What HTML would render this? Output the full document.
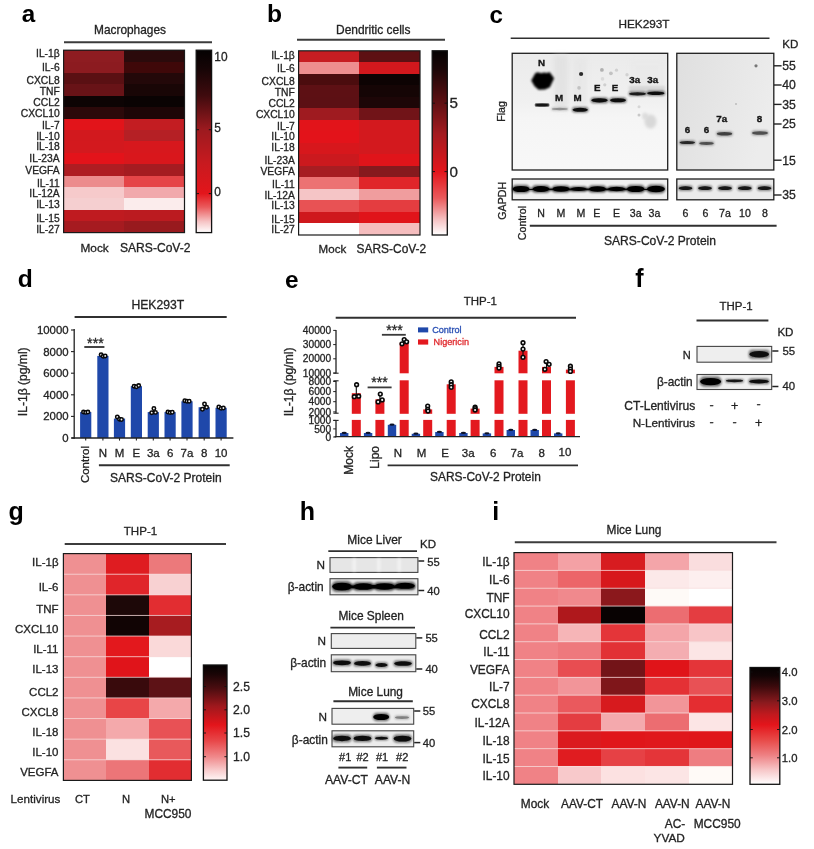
<!DOCTYPE html>
<html lang="en"><head><meta charset="utf-8"><title>Figure</title>
<style>
html,body{margin:0;padding:0;background:#fff;}
body{width:814px;height:849px;overflow:hidden;}
svg{display:block;font-family:"Liberation Sans",Arial,sans-serif;filter:blur(0.45px);}
</style></head><body>
<svg width="814" height="849" viewBox="0 0 814 849">
<rect x="0" y="0" width="814" height="849" fill="#ffffff"/>
<text x="28.40" y="21.76" font-size="24.20" text-anchor="middle" font-weight="700" fill="#000">a</text>
<text x="130.00" y="33.75" font-size="11.88" text-anchor="middle" stroke="#242424" stroke-width="0.3" fill="#242424">Macrophages</text>
<line x1="64.00" y1="42.30" x2="212.00" y2="42.30" stroke="#3c3c3c" stroke-width="1.9" stroke-linecap="butt"/>
<rect x="63.60" y="50.20" width="60.95" height="11.90" fill="#8e1c21" shape-rendering="crispEdges"/>
<rect x="124.05" y="50.20" width="60.45" height="11.90" fill="#2b0a0b" shape-rendering="crispEdges"/>
<rect x="63.60" y="61.60" width="60.95" height="11.90" fill="#8c1b20" shape-rendering="crispEdges"/>
<rect x="124.05" y="61.60" width="60.45" height="11.90" fill="#3f0809" shape-rendering="crispEdges"/>
<rect x="63.60" y="73.00" width="60.95" height="11.90" fill="#5a1013" shape-rendering="crispEdges"/>
<rect x="124.05" y="73.00" width="60.45" height="11.90" fill="#230809" shape-rendering="crispEdges"/>
<rect x="63.60" y="84.40" width="60.95" height="11.90" fill="#681317" shape-rendering="crispEdges"/>
<rect x="124.05" y="84.40" width="60.45" height="11.90" fill="#190606" shape-rendering="crispEdges"/>
<rect x="63.60" y="95.80" width="60.95" height="11.90" fill="#0d0404" shape-rendering="crispEdges"/>
<rect x="124.05" y="95.80" width="60.45" height="11.90" fill="#0a0303" shape-rendering="crispEdges"/>
<rect x="63.60" y="107.20" width="60.95" height="11.90" fill="#2c090a" shape-rendering="crispEdges"/>
<rect x="124.05" y="107.20" width="60.45" height="11.90" fill="#1d0607" shape-rendering="crispEdges"/>
<rect x="63.60" y="118.60" width="60.95" height="11.90" fill="#e2141a" shape-rendering="crispEdges"/>
<rect x="124.05" y="118.60" width="60.45" height="11.90" fill="#c31d22" shape-rendering="crispEdges"/>
<rect x="63.60" y="130.00" width="60.95" height="11.90" fill="#d2191e" shape-rendering="crispEdges"/>
<rect x="124.05" y="130.00" width="60.45" height="11.90" fill="#b52025" shape-rendering="crispEdges"/>
<rect x="63.60" y="141.40" width="60.95" height="11.90" fill="#d3191e" shape-rendering="crispEdges"/>
<rect x="124.05" y="141.40" width="60.45" height="11.90" fill="#d7181d" shape-rendering="crispEdges"/>
<rect x="63.60" y="152.80" width="60.95" height="11.90" fill="#e3131a" shape-rendering="crispEdges"/>
<rect x="124.05" y="152.80" width="60.45" height="11.90" fill="#d9171c" shape-rendering="crispEdges"/>
<rect x="63.60" y="164.20" width="60.95" height="11.90" fill="#ae1d22" shape-rendering="crispEdges"/>
<rect x="124.05" y="164.20" width="60.45" height="11.90" fill="#a51c21" shape-rendering="crispEdges"/>
<rect x="63.60" y="175.60" width="60.95" height="11.90" fill="#ec8c8d" shape-rendering="crispEdges"/>
<rect x="124.05" y="175.60" width="60.45" height="11.90" fill="#e54548" shape-rendering="crispEdges"/>
<rect x="63.60" y="187.00" width="60.95" height="11.90" fill="#f6cacb" shape-rendering="crispEdges"/>
<rect x="124.05" y="187.00" width="60.45" height="11.90" fill="#f1a9ac" shape-rendering="crispEdges"/>
<rect x="63.60" y="198.40" width="60.95" height="11.90" fill="#f5cfd0" shape-rendering="crispEdges"/>
<rect x="124.05" y="198.40" width="60.45" height="11.90" fill="#fbecec" shape-rendering="crispEdges"/>
<rect x="63.60" y="209.80" width="60.95" height="11.90" fill="#bf1b20" shape-rendering="crispEdges"/>
<rect x="124.05" y="209.80" width="60.45" height="11.90" fill="#bb1b20" shape-rendering="crispEdges"/>
<rect x="63.60" y="221.20" width="60.95" height="11.40" fill="#a61b20" shape-rendering="crispEdges"/>
<rect x="124.05" y="221.20" width="60.45" height="11.40" fill="#981a1e" shape-rendering="crispEdges"/>
<rect x="63.60" y="50.20" width="120.90" height="182.40" fill="none" stroke="#1a1a1a" stroke-width="1.2"/>
<text x="59.70" y="57.39" font-size="10.30" text-anchor="end" stroke="#242424" stroke-width="0.3" fill="#242424">IL-1β</text>
<text x="59.70" y="70.99" font-size="10.30" text-anchor="end" stroke="#242424" stroke-width="0.3" fill="#242424">IL-6</text>
<text x="59.70" y="84.29" font-size="10.30" text-anchor="end" stroke="#242424" stroke-width="0.3" fill="#242424">CXCL8</text>
<text x="59.70" y="94.89" font-size="10.30" text-anchor="end" stroke="#242424" stroke-width="0.3" fill="#242424">TNF</text>
<text x="59.70" y="105.89" font-size="10.30" text-anchor="end" stroke="#242424" stroke-width="0.3" fill="#242424">CCL2</text>
<text x="59.70" y="117.09" font-size="10.30" text-anchor="end" stroke="#242424" stroke-width="0.3" fill="#242424">CXCL10</text>
<text x="59.70" y="129.09" font-size="10.30" text-anchor="end" stroke="#242424" stroke-width="0.3" fill="#242424">IL-7</text>
<text x="59.70" y="139.69" font-size="10.30" text-anchor="end" stroke="#242424" stroke-width="0.3" fill="#242424">IL-10</text>
<text x="59.70" y="149.99" font-size="10.30" text-anchor="end" stroke="#242424" stroke-width="0.3" fill="#242424">IL-18</text>
<text x="59.70" y="162.19" font-size="10.30" text-anchor="end" stroke="#242424" stroke-width="0.3" fill="#242424">IL-23A</text>
<text x="59.70" y="174.49" font-size="10.30" text-anchor="end" stroke="#242424" stroke-width="0.3" fill="#242424">VEGFA</text>
<text x="59.70" y="186.79" font-size="10.30" text-anchor="end" stroke="#242424" stroke-width="0.3" fill="#242424">IL-11</text>
<text x="59.70" y="197.09" font-size="10.30" text-anchor="end" stroke="#242424" stroke-width="0.3" fill="#242424">IL-12A</text>
<text x="59.70" y="207.99" font-size="10.30" text-anchor="end" stroke="#242424" stroke-width="0.3" fill="#242424">IL-13</text>
<text x="59.70" y="221.59" font-size="10.30" text-anchor="end" stroke="#242424" stroke-width="0.3" fill="#242424">IL-15</text>
<text x="59.70" y="232.59" font-size="10.30" text-anchor="end" stroke="#242424" stroke-width="0.3" fill="#242424">IL-27</text>
<defs><linearGradient id="cb1" x1="0" y1="0" x2="0" y2="1"><stop offset="0" stop-color="#050202"/><stop offset="0.1" stop-color="#160506"/><stop offset="0.25" stop-color="#400b0e"/><stop offset="0.435" stop-color="#9c1a1f"/><stop offset="0.62" stop-color="#c81a1f"/><stop offset="0.785" stop-color="#e3151b"/><stop offset="0.86" stop-color="#ea5a5c"/><stop offset="0.94" stop-color="#f6c4c5"/><stop offset="1" stop-color="#ffffff"/></linearGradient></defs>
<rect x="196.20" y="50.20" width="15.40" height="182.40" fill="url(#cb1)" stroke="#111" stroke-width="1.3"/>
<text x="214.30" y="60.56" font-size="11.90" text-anchor="start" stroke="#242424" stroke-width="0.3" fill="#242424">10</text>
<text x="214.30" y="132.16" font-size="11.90" text-anchor="start" stroke="#242424" stroke-width="0.3" fill="#242424">5</text>
<text x="214.30" y="196.26" font-size="11.90" text-anchor="start" stroke="#242424" stroke-width="0.3" fill="#242424">0</text>
<line x1="196.20" y1="129.70" x2="199.00" y2="129.70" stroke="#111" stroke-width="0.9" stroke-linecap="butt"/>
<line x1="208.80" y1="129.70" x2="211.60" y2="129.70" stroke="#111" stroke-width="0.9" stroke-linecap="butt"/>
<line x1="196.20" y1="193.60" x2="199.00" y2="193.60" stroke="#111" stroke-width="0.9" stroke-linecap="butt"/>
<line x1="208.80" y1="193.60" x2="211.60" y2="193.60" stroke="#111" stroke-width="0.9" stroke-linecap="butt"/>
<text x="94.65" y="252.04" font-size="11.84" text-anchor="middle" stroke="#242424" stroke-width="0.3" fill="#242424">Mock</text>
<text x="155.25" y="252.12" font-size="12.08" text-anchor="middle" stroke="#242424" stroke-width="0.3" fill="#242424">SARS-CoV-2</text>
<text x="274.50" y="22.06" font-size="24.60" text-anchor="middle" font-weight="700" fill="#000">b</text>
<text x="373.25" y="33.58" font-size="11.97" text-anchor="middle" stroke="#242424" stroke-width="0.3" fill="#242424">Dendritic cells</text>
<line x1="297.00" y1="39.80" x2="445.00" y2="39.80" stroke="#3c3c3c" stroke-width="1.9" stroke-linecap="butt"/>
<rect x="298.60" y="50.80" width="61.20" height="12.01" fill="#c71d22" shape-rendering="crispEdges"/>
<rect x="359.30" y="50.80" width="60.70" height="12.01" fill="#5d1013" shape-rendering="crispEdges"/>
<rect x="298.60" y="62.31" width="61.20" height="12.01" fill="#ee8e8f" shape-rendering="crispEdges"/>
<rect x="359.30" y="62.31" width="60.70" height="12.01" fill="#d3181d" shape-rendering="crispEdges"/>
<rect x="298.60" y="73.82" width="61.20" height="12.01" fill="#4b0c0e" shape-rendering="crispEdges"/>
<rect x="359.30" y="73.82" width="60.70" height="12.01" fill="#0d0303" shape-rendering="crispEdges"/>
<rect x="298.60" y="85.34" width="61.20" height="12.01" fill="#5d1014" shape-rendering="crispEdges"/>
<rect x="359.30" y="85.34" width="60.70" height="12.01" fill="#150505" shape-rendering="crispEdges"/>
<rect x="298.60" y="96.85" width="61.20" height="12.01" fill="#5c1014" shape-rendering="crispEdges"/>
<rect x="359.30" y="96.85" width="60.70" height="12.01" fill="#1d0607" shape-rendering="crispEdges"/>
<rect x="298.60" y="108.36" width="61.20" height="12.01" fill="#9f1b20" shape-rendering="crispEdges"/>
<rect x="359.30" y="108.36" width="60.70" height="12.01" fill="#711418" shape-rendering="crispEdges"/>
<rect x="298.60" y="119.87" width="61.20" height="12.01" fill="#e2141a" shape-rendering="crispEdges"/>
<rect x="359.30" y="119.87" width="60.70" height="12.01" fill="#d3191e" shape-rendering="crispEdges"/>
<rect x="298.60" y="131.39" width="61.20" height="12.01" fill="#e3131a" shape-rendering="crispEdges"/>
<rect x="359.30" y="131.39" width="60.70" height="12.01" fill="#d3191e" shape-rendering="crispEdges"/>
<rect x="298.60" y="142.90" width="61.20" height="12.01" fill="#d7171c" shape-rendering="crispEdges"/>
<rect x="359.30" y="142.90" width="60.70" height="12.01" fill="#d3191e" shape-rendering="crispEdges"/>
<rect x="298.60" y="154.41" width="61.20" height="12.01" fill="#cb191e" shape-rendering="crispEdges"/>
<rect x="359.30" y="154.41" width="60.70" height="12.01" fill="#e0141a" shape-rendering="crispEdges"/>
<rect x="298.60" y="165.93" width="61.20" height="12.01" fill="#a71d22" shape-rendering="crispEdges"/>
<rect x="359.30" y="165.93" width="60.70" height="12.01" fill="#851a1e" shape-rendering="crispEdges"/>
<rect x="298.60" y="177.44" width="61.20" height="12.01" fill="#ec7273" shape-rendering="crispEdges"/>
<rect x="359.30" y="177.44" width="60.70" height="12.01" fill="#e0252a" shape-rendering="crispEdges"/>
<rect x="298.60" y="188.95" width="61.20" height="12.01" fill="#f5c5c6" shape-rendering="crispEdges"/>
<rect x="359.30" y="188.95" width="60.70" height="12.01" fill="#f09d9e" shape-rendering="crispEdges"/>
<rect x="298.60" y="200.46" width="61.20" height="12.01" fill="#e85254" shape-rendering="crispEdges"/>
<rect x="359.30" y="200.46" width="60.70" height="12.01" fill="#e43d40" shape-rendering="crispEdges"/>
<rect x="298.60" y="211.97" width="61.20" height="12.01" fill="#cf181d" shape-rendering="crispEdges"/>
<rect x="359.30" y="211.97" width="60.70" height="12.01" fill="#e0141a" shape-rendering="crispEdges"/>
<rect x="298.60" y="223.49" width="61.20" height="11.51" fill="#ffffff" shape-rendering="crispEdges"/>
<rect x="359.30" y="223.49" width="60.70" height="11.51" fill="#f5bdbe" shape-rendering="crispEdges"/>
<rect x="298.60" y="50.80" width="121.40" height="184.20" fill="none" stroke="#1a1a1a" stroke-width="1.2"/>
<text x="294.80" y="59.09" font-size="10.30" text-anchor="end" stroke="#242424" stroke-width="0.3" fill="#242424">IL-1β</text>
<text x="294.80" y="72.29" font-size="10.30" text-anchor="end" stroke="#242424" stroke-width="0.3" fill="#242424">IL-6</text>
<text x="294.80" y="84.69" font-size="10.30" text-anchor="end" stroke="#242424" stroke-width="0.3" fill="#242424">CXCL8</text>
<text x="294.80" y="96.49" font-size="10.30" text-anchor="end" stroke="#242424" stroke-width="0.3" fill="#242424">TNF</text>
<text x="294.80" y="106.79" font-size="10.30" text-anchor="end" stroke="#242424" stroke-width="0.3" fill="#242424">CCL2</text>
<text x="294.80" y="117.69" font-size="10.30" text-anchor="end" stroke="#242424" stroke-width="0.3" fill="#242424">CXCL10</text>
<text x="294.80" y="129.79" font-size="10.30" text-anchor="end" stroke="#242424" stroke-width="0.3" fill="#242424">IL-7</text>
<text x="294.80" y="140.39" font-size="10.30" text-anchor="end" stroke="#242424" stroke-width="0.3" fill="#242424">IL-10</text>
<text x="294.80" y="150.99" font-size="10.30" text-anchor="end" stroke="#242424" stroke-width="0.3" fill="#242424">IL-18</text>
<text x="294.80" y="163.69" font-size="10.30" text-anchor="end" stroke="#242424" stroke-width="0.3" fill="#242424">IL-23A</text>
<text x="294.80" y="175.39" font-size="10.30" text-anchor="end" stroke="#242424" stroke-width="0.3" fill="#242424">VEGFA</text>
<text x="294.80" y="188.39" font-size="10.30" text-anchor="end" stroke="#242424" stroke-width="0.3" fill="#242424">IL-11</text>
<text x="294.80" y="198.99" font-size="10.30" text-anchor="end" stroke="#242424" stroke-width="0.3" fill="#242424">IL-12A</text>
<text x="294.80" y="209.29" font-size="10.30" text-anchor="end" stroke="#242424" stroke-width="0.3" fill="#242424">IL-13</text>
<text x="294.80" y="222.59" font-size="10.30" text-anchor="end" stroke="#242424" stroke-width="0.3" fill="#242424">IL-15</text>
<text x="294.80" y="232.59" font-size="10.30" text-anchor="end" stroke="#242424" stroke-width="0.3" fill="#242424">IL-27</text>
<defs><linearGradient id="cb2" x1="0" y1="0" x2="0" y2="1"><stop offset="0" stop-color="#050202"/><stop offset="0.1" stop-color="#1b0607"/><stop offset="0.28" stop-color="#5e1013"/><stop offset="0.45" stop-color="#a31b20"/><stop offset="0.655" stop-color="#e3151b"/><stop offset="0.8" stop-color="#ea5a5c"/><stop offset="0.92" stop-color="#f6c4c5"/><stop offset="1" stop-color="#ffffff"/></linearGradient></defs>
<rect x="432.20" y="50.80" width="15.10" height="184.20" fill="url(#cb2)" stroke="#111" stroke-width="1.3"/>
<text x="449.60" y="108.04" font-size="15.20" text-anchor="start" stroke="#242424" stroke-width="0.3" fill="#242424">5</text>
<text x="449.60" y="176.74" font-size="15.20" text-anchor="start" stroke="#242424" stroke-width="0.3" fill="#242424">0</text>
<line x1="432.20" y1="103.20" x2="435.00" y2="103.20" stroke="#111" stroke-width="0.9" stroke-linecap="butt"/>
<line x1="444.50" y1="103.20" x2="447.30" y2="103.20" stroke="#111" stroke-width="0.9" stroke-linecap="butt"/>
<line x1="432.20" y1="171.60" x2="435.00" y2="171.60" stroke="#111" stroke-width="0.9" stroke-linecap="butt"/>
<line x1="444.50" y1="171.60" x2="447.30" y2="171.60" stroke="#111" stroke-width="0.9" stroke-linecap="butt"/>
<text x="332.40" y="252.74" font-size="11.55" text-anchor="middle" stroke="#242424" stroke-width="0.3" fill="#242424">Mock</text>
<text x="391.40" y="252.87" font-size="11.93" text-anchor="middle" stroke="#242424" stroke-width="0.3" fill="#242424">SARS-CoV-2</text>
<defs><filter id="bl5" x="-30%" y="-80%" width="160%" height="260%"><feGaussianBlur stdDeviation="0.5"/></filter><filter id="bl7" x="-30%" y="-80%" width="160%" height="260%"><feGaussianBlur stdDeviation="0.7"/></filter><filter id="bl8" x="-30%" y="-80%" width="160%" height="260%"><feGaussianBlur stdDeviation="0.8"/></filter><filter id="bl9" x="-30%" y="-80%" width="160%" height="260%"><feGaussianBlur stdDeviation="0.9"/></filter><filter id="bl10" x="-30%" y="-80%" width="160%" height="260%"><feGaussianBlur stdDeviation="1.0"/></filter><filter id="bl12" x="-30%" y="-80%" width="160%" height="260%"><feGaussianBlur stdDeviation="1.2"/></filter><filter id="bl16" x="-30%" y="-80%" width="160%" height="260%"><feGaussianBlur stdDeviation="1.6"/></filter><filter id="bl25" x="-30%" y="-80%" width="160%" height="260%"><feGaussianBlur stdDeviation="2.5"/></filter></defs>
<text x="496.20" y="22.53" font-size="24.20" text-anchor="middle" font-weight="700" fill="#000">c</text>
<text x="644.00" y="27.83" font-size="11.81" text-anchor="middle" stroke="#242424" stroke-width="0.3" fill="#242424">HEK293T</text>
<line x1="510.70" y1="38.20" x2="769.50" y2="38.20" stroke="#303030" stroke-width="1.6" stroke-linecap="butt"/>
<text x="790.25" y="47.95" font-size="11.59" text-anchor="middle" stroke="#242424" stroke-width="0.3" fill="#242424">KD</text>
<defs><linearGradient id="bg1" x1="0" y1="0" x2="0" y2="1"><stop offset="0" stop-color="#ebebeb"/><stop offset="0.4" stop-color="#f0f0f0"/><stop offset="0.55" stop-color="#f5f5f5"/><stop offset="1" stop-color="#f8f8f8"/></linearGradient><linearGradient id="bg2" x1="0" y1="0" x2="1" y2="0.3"><stop offset="0" stop-color="#dfdfdf"/><stop offset="0.6" stop-color="#e7e7e7"/><stop offset="1" stop-color="#ececec"/></linearGradient></defs>
<rect x="512.20" y="53.30" width="155.50" height="116.70" fill="url(#bg1)" stroke="#1e1e1e" stroke-width="1.3"/>
<rect x="676.80" y="53.30" width="97.00" height="116.70" fill="url(#bg2)" stroke="#1e1e1e" stroke-width="1.3"/>
<rect x="554" y="55" width="14" height="54" fill="#dcdcdc" opacity="0.6" filter="url(#bl25)"/>
<rect x="573" y="58" width="14" height="50" fill="#e2e2e2" opacity="0.5" filter="url(#bl25)"/>
<rect x="630" y="60" width="34" height="30" fill="#e8e8e8" opacity="0.5" filter="url(#bl25)"/>
<polygon points="531.2,80.5 535.4,73 538,72.2 541,73.2 544,72.4 547,73.1 549.6,72 554.1,78.2 549.9,87.3 545,89.4 538.6,89.8 534.5,86.2" fill="#030303" filter="url(#bl8)"/>
<rect x="534.60" y="103.10" width="15.00" height="3.80" rx="1.90" fill="#151515" opacity="0.55" filter="url(#bl7)"/>
<ellipse cx="542.10" cy="105.00" rx="7.05" ry="1.37" fill="#151515" opacity="1.0" filter="url(#bl5)"/>
<text x="541.60" y="66.31" font-size="9.80" text-anchor="middle" font-weight="700" stroke="#151515" stroke-width="0.35" fill="#151515">N</text>
<rect x="551.30" y="107.40" width="17.00" height="3.20" rx="1.60" fill="#909090" opacity="0.55" filter="url(#bl10)"/>
<ellipse cx="559.80" cy="109.00" rx="7.99" ry="1.15" fill="#909090" opacity="1.0" filter="url(#bl5)"/>
<rect x="572.00" y="107.10" width="16.40" height="5.40" rx="2.70" fill="#0c0c0c" opacity="0.55" filter="url(#bl8)"/>
<ellipse cx="580.20" cy="109.80" rx="7.71" ry="1.94" fill="#0c0c0c" opacity="1.0" filter="url(#bl5)"/>
<text x="559.00" y="100.81" font-size="9.80" text-anchor="middle" font-weight="700" stroke="#151515" stroke-width="0.35" fill="#151515">M</text>
<text x="577.60" y="100.81" font-size="9.80" text-anchor="middle" font-weight="700" stroke="#151515" stroke-width="0.35" fill="#151515">M</text>
<circle cx="581.1" cy="74" r="2.1" fill="#2c2c2c" filter="url(#bl5)"/>
<circle cx="579" cy="87.9" r="1.8" fill="#c2c2c2" filter="url(#bl5)"/>
<circle cx="601.9" cy="69.9" r="1.9" fill="#b0b0b0" filter="url(#bl5)"/>
<circle cx="610.9" cy="73.3" r="1.9" fill="#c2c2c2" filter="url(#bl5)"/>
<circle cx="616.5" cy="70.2" r="1.6" fill="#d0d0d0" filter="url(#bl5)"/>
<circle cx="602.5" cy="78.9" r="1.8" fill="#dadada" filter="url(#bl5)"/>
<circle cx="604.8" cy="84.8" r="1.6" fill="#cfcfcf" filter="url(#bl5)"/>
<circle cx="627" cy="74.8" r="1.7" fill="#d2d2d2" filter="url(#bl5)"/>
<circle cx="639" cy="106.7" r="1.5" fill="#d6d6d6" filter="url(#bl5)"/>
<circle cx="639" cy="115.1" r="1.5" fill="#c8c8c8" filter="url(#bl5)"/>
<rect x="629" y="86" width="36" height="6" fill="#b0b0b0" opacity="0.35" filter="url(#bl12)"/>
<ellipse cx="645" cy="116" rx="3" ry="3.5" fill="#dedede" filter="url(#bl12)"/>
<rect x="590.75" y="97.40" width="17.50" height="5.80" rx="2.90" fill="#0a0a0a" opacity="0.55" filter="url(#bl8)"/>
<ellipse cx="599.50" cy="100.30" rx="8.22" ry="2.09" fill="#0a0a0a" opacity="1.0" filter="url(#bl5)"/>
<rect x="609.50" y="97.50" width="17.00" height="5.60" rx="2.80" fill="#0c0c0c" opacity="0.55" filter="url(#bl8)"/>
<ellipse cx="618.00" cy="100.30" rx="7.99" ry="2.02" fill="#0c0c0c" opacity="1.0" filter="url(#bl5)"/>
<text x="597.30" y="90.91" font-size="9.80" text-anchor="middle" font-weight="700" stroke="#151515" stroke-width="0.35" fill="#151515">E</text>
<text x="615.00" y="90.91" font-size="9.80" text-anchor="middle" font-weight="700" stroke="#151515" stroke-width="0.35" fill="#151515">E</text>
<rect x="628.50" y="91.50" width="18.00" height="4.60" rx="2.30" fill="#1a1a1a" opacity="0.55" filter="url(#bl8)"/>
<ellipse cx="637.50" cy="93.80" rx="8.46" ry="1.66" fill="#1a1a1a" opacity="1.0" filter="url(#bl5)"/>
<rect x="646.55" y="90.70" width="18.50" height="5.00" rx="2.50" fill="#101010" opacity="0.55" filter="url(#bl8)"/>
<ellipse cx="655.80" cy="93.20" rx="8.70" ry="1.80" fill="#101010" opacity="1.0" filter="url(#bl5)"/>
<text x="634.80" y="82.91" font-size="9.80" text-anchor="middle" font-weight="700" stroke="#151515" stroke-width="0.35" fill="#151515">3a</text>
<text x="652.80" y="82.91" font-size="9.80" text-anchor="middle" font-weight="700" stroke="#151515" stroke-width="0.35" fill="#151515">3a</text>
<ellipse cx="650.5" cy="121.5" rx="6" ry="7" fill="#d8d8d8" filter="url(#bl16)"/>
<rect x="679.05" y="140.50" width="16.50" height="4.20" rx="2.10" fill="#1c1c1c" opacity="0.50" filter="url(#bl12)"/>
<ellipse cx="687.30" cy="142.60" rx="7.75" ry="1.51" fill="#1c1c1c" opacity="0.9" filter="url(#bl5)"/>
<rect x="698.75" y="141.30" width="15.50" height="4.20" rx="2.10" fill="#3a3a3a" opacity="0.44" filter="url(#bl12)"/>
<ellipse cx="706.50" cy="143.40" rx="7.28" ry="1.51" fill="#3a3a3a" opacity="0.8" filter="url(#bl5)"/>
<text x="687.50" y="133.01" font-size="9.80" text-anchor="middle" font-weight="700" stroke="#151515" stroke-width="0.35" fill="#151515">6</text>
<text x="706.40" y="133.01" font-size="9.80" text-anchor="middle" font-weight="700" stroke="#151515" stroke-width="0.35" fill="#151515">6</text>
<rect x="716.25" y="131.40" width="16.50" height="4.80" rx="2.40" fill="#333" opacity="0.47" filter="url(#bl12)"/>
<ellipse cx="724.50" cy="133.80" rx="7.75" ry="1.73" fill="#333" opacity="0.85" filter="url(#bl5)"/>
<text x="721.80" y="121.51" font-size="9.80" text-anchor="middle" font-weight="700" stroke="#151515" stroke-width="0.35" fill="#151515">7a</text>
<rect x="751.50" y="130.50" width="17.00" height="5.00" rx="2.50" fill="#3a3a3a" opacity="0.44" filter="url(#bl12)"/>
<ellipse cx="760.00" cy="133.00" rx="7.99" ry="1.80" fill="#3a3a3a" opacity="0.8" filter="url(#bl5)"/>
<text x="759.40" y="121.51" font-size="9.80" text-anchor="middle" font-weight="700" stroke="#151515" stroke-width="0.35" fill="#151515">8</text>
<circle cx="756" cy="65.8" r="1.6" fill="#777" filter="url(#bl5)"/>
<circle cx="736" cy="104" r="1" fill="#bbb" filter="url(#bl5)"/>
<line x1="774.00" y1="65.80" x2="781.60" y2="65.80" stroke="#222" stroke-width="1.4" stroke-linecap="butt"/>
<text x="782.20" y="70.17" font-size="12.20" text-anchor="start" stroke="#242424" stroke-width="0.3" fill="#242424">55</text>
<line x1="774.00" y1="85.00" x2="781.60" y2="85.00" stroke="#222" stroke-width="1.4" stroke-linecap="butt"/>
<text x="782.20" y="89.37" font-size="12.20" text-anchor="start" stroke="#242424" stroke-width="0.3" fill="#242424">40</text>
<line x1="774.00" y1="104.40" x2="781.60" y2="104.40" stroke="#222" stroke-width="1.4" stroke-linecap="butt"/>
<text x="782.20" y="108.77" font-size="12.20" text-anchor="start" stroke="#242424" stroke-width="0.3" fill="#242424">35</text>
<line x1="774.00" y1="124.00" x2="781.60" y2="124.00" stroke="#222" stroke-width="1.4" stroke-linecap="butt"/>
<text x="782.20" y="128.37" font-size="12.20" text-anchor="start" stroke="#242424" stroke-width="0.3" fill="#242424">25</text>
<line x1="774.00" y1="160.20" x2="781.60" y2="160.20" stroke="#222" stroke-width="1.4" stroke-linecap="butt"/>
<text x="782.20" y="164.57" font-size="12.20" text-anchor="start" stroke="#242424" stroke-width="0.3" fill="#242424">15</text>
<text transform="translate(501.00,111.50) rotate(-90)" x="0" y="3.79" font-size="10.60" text-anchor="middle" stroke="#242424" stroke-width="0.3" fill="#242424">Flag</text>
<rect x="512.20" y="179.00" width="155.50" height="20.80" fill="#f0f0f0" stroke="#1e1e1e" stroke-width="1.3"/>
<rect x="676.80" y="179.00" width="97.00" height="20.80" fill="#ebebeb" stroke="#1e1e1e" stroke-width="1.3"/>
<rect x="513.50" y="188.10" width="150.00" height="2.60" rx="1.30" fill="#101010" opacity="0.55" filter="url(#bl9)"/>
<ellipse cx="588.50" cy="189.40" rx="70.50" ry="0.94" fill="#101010" opacity="1.0" filter="url(#bl5)"/>
<rect x="512.00" y="184.70" width="18.00" height="8.60" rx="4.30" fill="#060606" opacity="0.55" filter="url(#bl9)"/>
<ellipse cx="521.00" cy="189.00" rx="8.46" ry="3.10" fill="#060606" opacity="1.0" filter="url(#bl5)"/>
<rect x="532.00" y="185.00" width="18.00" height="8.00" rx="4.00" fill="#060606" opacity="0.55" filter="url(#bl9)"/>
<ellipse cx="541.00" cy="189.00" rx="8.46" ry="2.88" fill="#060606" opacity="1.0" filter="url(#bl5)"/>
<rect x="552.00" y="185.30" width="18.00" height="7.40" rx="3.70" fill="#060606" opacity="0.55" filter="url(#bl9)"/>
<ellipse cx="561.00" cy="189.00" rx="8.46" ry="2.66" fill="#060606" opacity="1.0" filter="url(#bl5)"/>
<rect x="570.10" y="186.30" width="17.00" height="5.40" rx="2.70" fill="#060606" opacity="0.55" filter="url(#bl9)"/>
<ellipse cx="578.60" cy="189.00" rx="7.99" ry="1.94" fill="#060606" opacity="1.0" filter="url(#bl5)"/>
<rect x="588.50" y="185.20" width="18.00" height="7.60" rx="3.80" fill="#060606" opacity="0.55" filter="url(#bl9)"/>
<ellipse cx="597.50" cy="189.00" rx="8.46" ry="2.74" fill="#060606" opacity="1.0" filter="url(#bl5)"/>
<rect x="607.60" y="185.90" width="18.00" height="6.20" rx="3.10" fill="#060606" opacity="0.55" filter="url(#bl9)"/>
<ellipse cx="616.60" cy="189.00" rx="8.46" ry="2.23" fill="#060606" opacity="1.0" filter="url(#bl5)"/>
<rect x="626.45" y="184.80" width="18.50" height="8.40" rx="4.20" fill="#060606" opacity="0.55" filter="url(#bl9)"/>
<ellipse cx="635.70" cy="189.00" rx="8.70" ry="3.02" fill="#060606" opacity="1.0" filter="url(#bl5)"/>
<rect x="646.50" y="184.60" width="19.00" height="8.80" rx="4.40" fill="#060606" opacity="0.55" filter="url(#bl9)"/>
<ellipse cx="656.00" cy="189.00" rx="8.93" ry="3.17" fill="#060606" opacity="1.0" filter="url(#bl5)"/>
<rect x="678.25" y="185.60" width="14.50" height="5.20" rx="2.60" fill="#151515" opacity="0.55" filter="url(#bl9)"/>
<ellipse cx="685.50" cy="188.20" rx="6.81" ry="1.87" fill="#151515" opacity="1.0" filter="url(#bl5)"/>
<rect x="697.75" y="185.60" width="14.50" height="5.20" rx="2.60" fill="#151515" opacity="0.55" filter="url(#bl9)"/>
<ellipse cx="705.00" cy="188.20" rx="6.81" ry="1.87" fill="#151515" opacity="1.0" filter="url(#bl5)"/>
<rect x="717.75" y="185.60" width="14.50" height="5.20" rx="2.60" fill="#151515" opacity="0.55" filter="url(#bl9)"/>
<ellipse cx="725.00" cy="188.20" rx="6.81" ry="1.87" fill="#151515" opacity="1.0" filter="url(#bl5)"/>
<rect x="737.55" y="185.60" width="14.50" height="5.20" rx="2.60" fill="#151515" opacity="0.55" filter="url(#bl9)"/>
<ellipse cx="744.80" cy="188.20" rx="6.81" ry="1.87" fill="#151515" opacity="1.0" filter="url(#bl5)"/>
<rect x="757.25" y="185.60" width="14.50" height="5.20" rx="2.60" fill="#151515" opacity="0.55" filter="url(#bl9)"/>
<ellipse cx="764.50" cy="188.20" rx="6.81" ry="1.87" fill="#151515" opacity="1.0" filter="url(#bl5)"/>
<line x1="774.00" y1="195.00" x2="781.60" y2="195.00" stroke="#222" stroke-width="1.4" stroke-linecap="butt"/>
<text x="782.20" y="199.37" font-size="12.20" text-anchor="start" stroke="#242424" stroke-width="0.3" fill="#242424">35</text>
<text transform="translate(502.00,200.80) rotate(-90)" x="0" y="3.79" font-size="10.60" text-anchor="middle" stroke="#242424" stroke-width="0.3" fill="#242424">GAPDH</text>
<text transform="translate(521.80,206.00) rotate(-90)" x="0" y="3.79" font-size="10.60" text-anchor="end" stroke="#242424" stroke-width="0.3" fill="#242424">Control</text>
<text x="541.00" y="216.79" font-size="10.60" text-anchor="middle" stroke="#242424" stroke-width="0.3" fill="#242424">N</text>
<text x="561.00" y="216.79" font-size="10.60" text-anchor="middle" stroke="#242424" stroke-width="0.3" fill="#242424">M</text>
<text x="580.80" y="216.79" font-size="10.60" text-anchor="middle" stroke="#242424" stroke-width="0.3" fill="#242424">M</text>
<text x="596.90" y="216.79" font-size="10.60" text-anchor="middle" stroke="#242424" stroke-width="0.3" fill="#242424">E</text>
<text x="616.60" y="216.79" font-size="10.60" text-anchor="middle" stroke="#242424" stroke-width="0.3" fill="#242424">E</text>
<text x="635.70" y="216.79" font-size="10.60" text-anchor="middle" stroke="#242424" stroke-width="0.3" fill="#242424">3a</text>
<text x="654.40" y="216.79" font-size="10.60" text-anchor="middle" stroke="#242424" stroke-width="0.3" fill="#242424">3a</text>
<text x="685.50" y="216.79" font-size="10.60" text-anchor="middle" stroke="#242424" stroke-width="0.3" fill="#242424">6</text>
<text x="705.40" y="216.79" font-size="10.60" text-anchor="middle" stroke="#242424" stroke-width="0.3" fill="#242424">6</text>
<text x="725.00" y="216.79" font-size="10.60" text-anchor="middle" stroke="#242424" stroke-width="0.3" fill="#242424">7a</text>
<text x="745.00" y="216.79" font-size="10.60" text-anchor="middle" stroke="#242424" stroke-width="0.3" fill="#242424">10</text>
<text x="765.00" y="216.79" font-size="10.60" text-anchor="middle" stroke="#242424" stroke-width="0.3" fill="#242424">8</text>
<line x1="529.80" y1="225.70" x2="776.60" y2="225.70" stroke="#303030" stroke-width="1.9" stroke-linecap="butt"/>
<text x="660.00" y="245.12" font-size="12.07" text-anchor="middle" stroke="#242424" stroke-width="0.3" fill="#242424">SARS-CoV-2 Protein</text>
<text x="25.20" y="287.06" font-size="24.60" text-anchor="middle" font-weight="700" fill="#000">d</text>
<text x="157.85" y="309.37" font-size="12.20" text-anchor="middle" stroke="#242424" stroke-width="0.3" fill="#242424">HEK293T</text>
<line x1="74.60" y1="317.00" x2="226.70" y2="317.00" stroke="#303030" stroke-width="1.9" stroke-linecap="butt"/>
<rect x="80.10" y="412.08" width="11.20" height="25.92" fill="#1f48aa"/>
<line x1="85.70" y1="411.68" x2="85.70" y2="413.38" stroke="#0a0a0a" stroke-width="1.0" stroke-linecap="butt"/>
<line x1="83.10" y1="412.28" x2="88.30" y2="412.28" stroke="#0a0a0a" stroke-width="1.0" stroke-linecap="butt"/>
<circle cx="83.50" cy="412.08" r="1.7" fill="#f4f4f4" stroke="#080808" stroke-width="1.55"/>
<circle cx="85.70" cy="412.38" r="1.7" fill="#f4f4f4" stroke="#080808" stroke-width="1.55"/>
<circle cx="87.90" cy="412.08" r="1.7" fill="#f4f4f4" stroke="#080808" stroke-width="1.55"/>
<rect x="97.30" y="355.92" width="11.20" height="82.08" fill="#1f48aa"/>
<line x1="102.90" y1="354.32" x2="102.90" y2="357.32" stroke="#0a0a0a" stroke-width="1.0" stroke-linecap="butt"/>
<line x1="100.30" y1="356.12" x2="105.50" y2="356.12" stroke="#0a0a0a" stroke-width="1.0" stroke-linecap="butt"/>
<circle cx="101.10" cy="354.72" r="1.7" fill="#f4f4f4" stroke="#080808" stroke-width="1.55"/>
<circle cx="103.20" cy="356.32" r="1.7" fill="#f4f4f4" stroke="#080808" stroke-width="1.55"/>
<circle cx="105.20" cy="355.92" r="1.7" fill="#f4f4f4" stroke="#080808" stroke-width="1.55"/>
<rect x="113.90" y="418.56" width="11.20" height="19.44" fill="#1f48aa"/>
<line x1="119.50" y1="416.56" x2="119.50" y2="420.46" stroke="#0a0a0a" stroke-width="1.0" stroke-linecap="butt"/>
<line x1="116.90" y1="418.76" x2="122.10" y2="418.76" stroke="#0a0a0a" stroke-width="1.0" stroke-linecap="butt"/>
<circle cx="117.30" cy="416.96" r="1.7" fill="#f4f4f4" stroke="#080808" stroke-width="1.55"/>
<circle cx="119.50" cy="419.16" r="1.7" fill="#f4f4f4" stroke="#080808" stroke-width="1.55"/>
<circle cx="121.50" cy="419.46" r="1.7" fill="#f4f4f4" stroke="#080808" stroke-width="1.55"/>
<rect x="130.80" y="386.16" width="11.20" height="51.84" fill="#1f48aa"/>
<line x1="136.40" y1="385.16" x2="136.40" y2="387.76" stroke="#0a0a0a" stroke-width="1.0" stroke-linecap="butt"/>
<line x1="133.80" y1="386.36" x2="139.00" y2="386.36" stroke="#0a0a0a" stroke-width="1.0" stroke-linecap="butt"/>
<circle cx="134.10" cy="386.16" r="1.7" fill="#f4f4f4" stroke="#080808" stroke-width="1.55"/>
<circle cx="136.40" cy="386.76" r="1.7" fill="#f4f4f4" stroke="#080808" stroke-width="1.55"/>
<circle cx="138.70" cy="385.56" r="1.7" fill="#f4f4f4" stroke="#080808" stroke-width="1.55"/>
<rect x="147.70" y="412.08" width="11.20" height="25.92" fill="#1f48aa"/>
<line x1="153.30" y1="408.08" x2="153.30" y2="413.68" stroke="#0a0a0a" stroke-width="1.0" stroke-linecap="butt"/>
<line x1="150.70" y1="412.28" x2="155.90" y2="412.28" stroke="#0a0a0a" stroke-width="1.0" stroke-linecap="butt"/>
<circle cx="151.70" cy="412.68" r="1.7" fill="#f4f4f4" stroke="#080808" stroke-width="1.55"/>
<circle cx="153.90" cy="408.48" r="1.7" fill="#f4f4f4" stroke="#080808" stroke-width="1.55"/>
<circle cx="155.50" cy="412.38" r="1.7" fill="#f4f4f4" stroke="#080808" stroke-width="1.55"/>
<rect x="164.50" y="412.08" width="11.20" height="25.92" fill="#1f48aa"/>
<line x1="170.10" y1="411.68" x2="170.10" y2="413.58" stroke="#0a0a0a" stroke-width="1.0" stroke-linecap="butt"/>
<line x1="167.50" y1="412.28" x2="172.70" y2="412.28" stroke="#0a0a0a" stroke-width="1.0" stroke-linecap="butt"/>
<circle cx="167.90" cy="412.08" r="1.7" fill="#f4f4f4" stroke="#080808" stroke-width="1.55"/>
<circle cx="170.10" cy="412.58" r="1.7" fill="#f4f4f4" stroke="#080808" stroke-width="1.55"/>
<circle cx="172.30" cy="412.28" r="1.7" fill="#f4f4f4" stroke="#080808" stroke-width="1.55"/>
<rect x="181.40" y="401.28" width="11.20" height="36.72" fill="#1f48aa"/>
<line x1="187.00" y1="400.28" x2="187.00" y2="402.28" stroke="#0a0a0a" stroke-width="1.0" stroke-linecap="butt"/>
<line x1="184.40" y1="401.48" x2="189.60" y2="401.48" stroke="#0a0a0a" stroke-width="1.0" stroke-linecap="butt"/>
<circle cx="184.80" cy="400.68" r="1.7" fill="#f4f4f4" stroke="#080808" stroke-width="1.55"/>
<circle cx="187.00" cy="401.28" r="1.7" fill="#f4f4f4" stroke="#080808" stroke-width="1.55"/>
<circle cx="189.20" cy="401.28" r="1.7" fill="#f4f4f4" stroke="#080808" stroke-width="1.55"/>
<rect x="198.60" y="407.22" width="11.20" height="30.78" fill="#1f48aa"/>
<line x1="204.20" y1="403.62" x2="204.20" y2="410.22" stroke="#0a0a0a" stroke-width="1.0" stroke-linecap="butt"/>
<line x1="201.60" y1="407.42" x2="206.80" y2="407.42" stroke="#0a0a0a" stroke-width="1.0" stroke-linecap="butt"/>
<circle cx="202.40" cy="409.22" r="1.7" fill="#f4f4f4" stroke="#080808" stroke-width="1.55"/>
<circle cx="204.50" cy="404.02" r="1.7" fill="#f4f4f4" stroke="#080808" stroke-width="1.55"/>
<circle cx="206.60" cy="407.22" r="1.7" fill="#f4f4f4" stroke="#080808" stroke-width="1.55"/>
<rect x="215.50" y="407.76" width="11.20" height="30.24" fill="#1f48aa"/>
<line x1="221.10" y1="406.56" x2="221.10" y2="409.36" stroke="#0a0a0a" stroke-width="1.0" stroke-linecap="butt"/>
<line x1="218.50" y1="407.96" x2="223.70" y2="407.96" stroke="#0a0a0a" stroke-width="1.0" stroke-linecap="butt"/>
<circle cx="218.80" cy="406.96" r="1.7" fill="#f4f4f4" stroke="#080808" stroke-width="1.55"/>
<circle cx="221.10" cy="408.36" r="1.7" fill="#f4f4f4" stroke="#080808" stroke-width="1.55"/>
<circle cx="223.40" cy="407.96" r="1.7" fill="#f4f4f4" stroke="#080808" stroke-width="1.55"/>
<line x1="74.20" y1="329.00" x2="74.20" y2="438.70" stroke="#222" stroke-width="1.3" stroke-linecap="butt"/>
<line x1="71.50" y1="438.00" x2="233.40" y2="438.00" stroke="#222" stroke-width="1.4" stroke-linecap="butt"/>
<line x1="71.00" y1="438.00" x2="74.20" y2="438.00" stroke="#222" stroke-width="1.1" stroke-linecap="butt"/>
<text x="68.60" y="442.08" font-size="11.40" text-anchor="end" stroke="#242424" stroke-width="0.3" fill="#242424">0</text>
<line x1="71.00" y1="416.40" x2="74.20" y2="416.40" stroke="#222" stroke-width="1.1" stroke-linecap="butt"/>
<text x="68.60" y="420.48" font-size="11.40" text-anchor="end" stroke="#242424" stroke-width="0.3" fill="#242424">2000</text>
<line x1="71.00" y1="394.80" x2="74.20" y2="394.80" stroke="#222" stroke-width="1.1" stroke-linecap="butt"/>
<text x="68.60" y="398.88" font-size="11.40" text-anchor="end" stroke="#242424" stroke-width="0.3" fill="#242424">4000</text>
<line x1="71.00" y1="373.20" x2="74.20" y2="373.20" stroke="#222" stroke-width="1.1" stroke-linecap="butt"/>
<text x="68.60" y="377.28" font-size="11.40" text-anchor="end" stroke="#242424" stroke-width="0.3" fill="#242424">6000</text>
<line x1="71.00" y1="351.60" x2="74.20" y2="351.60" stroke="#222" stroke-width="1.1" stroke-linecap="butt"/>
<text x="68.60" y="355.68" font-size="11.40" text-anchor="end" stroke="#242424" stroke-width="0.3" fill="#242424">8000</text>
<line x1="71.00" y1="330.00" x2="74.20" y2="330.00" stroke="#222" stroke-width="1.1" stroke-linecap="butt"/>
<text x="68.60" y="334.08" font-size="11.40" text-anchor="end" stroke="#242424" stroke-width="0.3" fill="#242424">10000</text>
<line x1="85.70" y1="438.00" x2="85.70" y2="440.60" stroke="#222" stroke-width="1.1" stroke-linecap="butt"/>
<line x1="102.90" y1="438.00" x2="102.90" y2="440.60" stroke="#222" stroke-width="1.1" stroke-linecap="butt"/>
<line x1="119.50" y1="438.00" x2="119.50" y2="440.60" stroke="#222" stroke-width="1.1" stroke-linecap="butt"/>
<line x1="136.40" y1="438.00" x2="136.40" y2="440.60" stroke="#222" stroke-width="1.1" stroke-linecap="butt"/>
<line x1="153.30" y1="438.00" x2="153.30" y2="440.60" stroke="#222" stroke-width="1.1" stroke-linecap="butt"/>
<line x1="170.10" y1="438.00" x2="170.10" y2="440.60" stroke="#222" stroke-width="1.1" stroke-linecap="butt"/>
<line x1="187.00" y1="438.00" x2="187.00" y2="440.60" stroke="#222" stroke-width="1.1" stroke-linecap="butt"/>
<line x1="204.20" y1="438.00" x2="204.20" y2="440.60" stroke="#222" stroke-width="1.1" stroke-linecap="butt"/>
<line x1="221.10" y1="438.00" x2="221.10" y2="440.60" stroke="#222" stroke-width="1.1" stroke-linecap="butt"/>
<line x1="84.30" y1="347.00" x2="104.40" y2="347.00" stroke="#3a3a3a" stroke-width="1.9" stroke-linecap="butt"/>
<text x="95.40" y="347.68" font-size="14.20" text-anchor="middle" stroke="#242424" stroke-width="0.3" fill="#242424">***</text>
<text transform="translate(84.50,446.00) rotate(-90)" x="0" y="4.12" font-size="11.50" text-anchor="end" stroke="#242424" stroke-width="0.3" fill="#242424">Control</text>
<text x="102.90" y="457.12" font-size="11.50" text-anchor="middle" stroke="#242424" stroke-width="0.3" fill="#242424">N</text>
<text x="119.50" y="457.12" font-size="11.50" text-anchor="middle" stroke="#242424" stroke-width="0.3" fill="#242424">M</text>
<text x="136.40" y="457.12" font-size="11.50" text-anchor="middle" stroke="#242424" stroke-width="0.3" fill="#242424">E</text>
<text x="153.30" y="457.12" font-size="11.50" text-anchor="middle" stroke="#242424" stroke-width="0.3" fill="#242424">3a</text>
<text x="170.10" y="457.12" font-size="11.50" text-anchor="middle" stroke="#242424" stroke-width="0.3" fill="#242424">6</text>
<text x="187.00" y="457.12" font-size="11.50" text-anchor="middle" stroke="#242424" stroke-width="0.3" fill="#242424">7a</text>
<text x="204.20" y="457.12" font-size="11.50" text-anchor="middle" stroke="#242424" stroke-width="0.3" fill="#242424">8</text>
<text x="221.10" y="457.12" font-size="11.50" text-anchor="middle" stroke="#242424" stroke-width="0.3" fill="#242424">10</text>
<line x1="98.90" y1="465.20" x2="229.70" y2="465.20" stroke="#303030" stroke-width="1.9" stroke-linecap="butt"/>
<text x="165.85" y="482.31" font-size="12.03" text-anchor="middle" stroke="#242424" stroke-width="0.3" fill="#242424">SARS-CoV-2 Protein</text>
<text transform="translate(22.40,381.80) rotate(-90)" x="0" y="4.33" font-size="12.10" text-anchor="middle" stroke="#242424" stroke-width="0.3" fill="#242424">IL-1β (pg/ml)</text>
<text x="291.80" y="287.59" font-size="24.40" text-anchor="middle" font-weight="700" fill="#000">e</text>
<text x="480.40" y="304.61" font-size="11.49" text-anchor="middle" stroke="#242424" stroke-width="0.3" fill="#242424">THP-1</text>
<line x1="335.70" y1="317.80" x2="576.00" y2="317.80" stroke="#303030" stroke-width="1.9" stroke-linecap="butt"/>
<rect x="340.00" y="433.00" width="8.40" height="3.60" fill="#1f48aa"/>
<ellipse cx="344.20" cy="432.90" rx="2.6" ry="1.1" fill="#0d1226"/>
<rect x="363.90" y="433.00" width="8.40" height="3.60" fill="#1f48aa"/>
<ellipse cx="368.10" cy="432.90" rx="2.6" ry="1.1" fill="#0d1226"/>
<rect x="387.80" y="424.80" width="8.40" height="11.80" fill="#1f48aa"/>
<ellipse cx="392.00" cy="424.70" rx="2.6" ry="1.1" fill="#0d1226"/>
<rect x="411.70" y="433.80" width="8.40" height="2.80" fill="#1f48aa"/>
<ellipse cx="415.90" cy="433.70" rx="2.6" ry="1.1" fill="#0d1226"/>
<rect x="435.20" y="432.00" width="8.40" height="4.60" fill="#1f48aa"/>
<ellipse cx="439.40" cy="431.90" rx="2.6" ry="1.1" fill="#0d1226"/>
<rect x="459.20" y="433.00" width="8.40" height="3.60" fill="#1f48aa"/>
<ellipse cx="463.40" cy="432.90" rx="2.6" ry="1.1" fill="#0d1226"/>
<rect x="482.70" y="433.40" width="8.40" height="3.20" fill="#1f48aa"/>
<ellipse cx="486.90" cy="433.30" rx="2.6" ry="1.1" fill="#0d1226"/>
<rect x="506.60" y="430.00" width="8.40" height="6.60" fill="#1f48aa"/>
<ellipse cx="510.80" cy="429.90" rx="2.6" ry="1.1" fill="#0d1226"/>
<rect x="530.50" y="430.00" width="8.40" height="6.60" fill="#1f48aa"/>
<ellipse cx="534.70" cy="429.90" rx="2.6" ry="1.1" fill="#0d1226"/>
<rect x="554.00" y="433.40" width="8.40" height="3.20" fill="#1f48aa"/>
<ellipse cx="558.20" cy="433.30" rx="2.6" ry="1.1" fill="#0d1226"/>
<rect x="351.80" y="393.20" width="9.00" height="43.40" fill="#e3191f"/>
<rect x="375.40" y="399.30" width="9.00" height="37.30" fill="#e3191f"/>
<rect x="399.70" y="342.60" width="9.00" height="94.00" fill="#e3191f"/>
<rect x="423.20" y="409.40" width="9.00" height="27.20" fill="#e3191f"/>
<rect x="446.70" y="384.30" width="9.00" height="52.30" fill="#e3191f"/>
<rect x="470.60" y="408.60" width="9.00" height="28.00" fill="#e3191f"/>
<rect x="494.50" y="366.90" width="9.00" height="69.70" fill="#e3191f"/>
<rect x="518.50" y="350.70" width="9.00" height="85.90" fill="#e3191f"/>
<rect x="542.00" y="366.90" width="9.00" height="69.70" fill="#e3191f"/>
<rect x="565.90" y="369.60" width="9.00" height="67.00" fill="#e3191f"/>
<rect x="338.80" y="373.30" width="241.20" height="7.00" fill="#fff"/>
<rect x="338.80" y="413.80" width="241.20" height="6.10" fill="#fff"/>
<line x1="356.30" y1="384.70" x2="356.30" y2="396.70" stroke="#0a0a0a" stroke-width="1.1" stroke-linecap="butt"/>
<circle cx="356.60" cy="384.70" r="1.85" fill="#f4f4f4" stroke="#080808" stroke-width="1.55"/>
<circle cx="354.30" cy="396.70" r="1.85" fill="#f4f4f4" stroke="#080808" stroke-width="1.55"/>
<circle cx="358.70" cy="396.20" r="1.85" fill="#f4f4f4" stroke="#080808" stroke-width="1.55"/>
<line x1="379.90" y1="394.10" x2="379.90" y2="401.90" stroke="#0a0a0a" stroke-width="1.1" stroke-linecap="butt"/>
<circle cx="380.30" cy="394.10" r="1.85" fill="#f4f4f4" stroke="#080808" stroke-width="1.55"/>
<circle cx="378.10" cy="401.90" r="1.85" fill="#f4f4f4" stroke="#080808" stroke-width="1.55"/>
<circle cx="382.20" cy="399.90" r="1.85" fill="#f4f4f4" stroke="#080808" stroke-width="1.55"/>
<line x1="404.20" y1="339.60" x2="404.20" y2="343.80" stroke="#0a0a0a" stroke-width="1.1" stroke-linecap="butt"/>
<circle cx="404.20" cy="339.60" r="1.85" fill="#f4f4f4" stroke="#080808" stroke-width="1.55"/>
<circle cx="402.00" cy="343.80" r="1.85" fill="#f4f4f4" stroke="#080808" stroke-width="1.55"/>
<circle cx="406.60" cy="341.80" r="1.85" fill="#f4f4f4" stroke="#080808" stroke-width="1.55"/>
<line x1="427.70" y1="406.00" x2="427.70" y2="411.00" stroke="#0a0a0a" stroke-width="1.1" stroke-linecap="butt"/>
<circle cx="427.70" cy="406.00" r="1.85" fill="#f4f4f4" stroke="#080808" stroke-width="1.55"/>
<circle cx="427.70" cy="409.40" r="1.85" fill="#f4f4f4" stroke="#080808" stroke-width="1.55"/>
<circle cx="428.00" cy="411.00" r="1.85" fill="#f4f4f4" stroke="#080808" stroke-width="1.55"/>
<line x1="451.20" y1="381.90" x2="451.20" y2="387.30" stroke="#0a0a0a" stroke-width="1.1" stroke-linecap="butt"/>
<circle cx="451.20" cy="381.90" r="1.85" fill="#f4f4f4" stroke="#080808" stroke-width="1.55"/>
<circle cx="451.20" cy="384.70" r="1.85" fill="#f4f4f4" stroke="#080808" stroke-width="1.55"/>
<circle cx="451.20" cy="387.30" r="1.85" fill="#f4f4f4" stroke="#080808" stroke-width="1.55"/>
<line x1="475.10" y1="407.00" x2="475.10" y2="410.00" stroke="#0a0a0a" stroke-width="1.1" stroke-linecap="butt"/>
<circle cx="475.10" cy="407.00" r="1.85" fill="#f4f4f4" stroke="#080808" stroke-width="1.55"/>
<circle cx="475.10" cy="408.60" r="1.85" fill="#f4f4f4" stroke="#080808" stroke-width="1.55"/>
<circle cx="475.10" cy="410.00" r="1.85" fill="#f4f4f4" stroke="#080808" stroke-width="1.55"/>
<line x1="499.00" y1="363.90" x2="499.00" y2="368.10" stroke="#0a0a0a" stroke-width="1.1" stroke-linecap="butt"/>
<circle cx="499.00" cy="363.90" r="1.85" fill="#f4f4f4" stroke="#080808" stroke-width="1.55"/>
<circle cx="499.00" cy="366.30" r="1.85" fill="#f4f4f4" stroke="#080808" stroke-width="1.55"/>
<circle cx="499.00" cy="368.10" r="1.85" fill="#f4f4f4" stroke="#080808" stroke-width="1.55"/>
<line x1="523.00" y1="342.70" x2="523.00" y2="357.30" stroke="#0a0a0a" stroke-width="1.1" stroke-linecap="butt"/>
<circle cx="523.00" cy="342.70" r="1.85" fill="#f4f4f4" stroke="#080808" stroke-width="1.55"/>
<circle cx="523.00" cy="349.10" r="1.85" fill="#f4f4f4" stroke="#080808" stroke-width="1.55"/>
<circle cx="523.00" cy="357.30" r="1.85" fill="#f4f4f4" stroke="#080808" stroke-width="1.55"/>
<line x1="546.50" y1="361.50" x2="546.50" y2="369.30" stroke="#0a0a0a" stroke-width="1.1" stroke-linecap="butt"/>
<circle cx="546.10" cy="361.50" r="1.85" fill="#f4f4f4" stroke="#080808" stroke-width="1.55"/>
<circle cx="544.90" cy="369.30" r="1.85" fill="#f4f4f4" stroke="#080808" stroke-width="1.55"/>
<circle cx="549.10" cy="364.30" r="1.85" fill="#f4f4f4" stroke="#080808" stroke-width="1.55"/>
<line x1="570.40" y1="366.20" x2="570.40" y2="371.40" stroke="#0a0a0a" stroke-width="1.1" stroke-linecap="butt"/>
<circle cx="570.40" cy="366.20" r="1.85" fill="#f4f4f4" stroke="#080808" stroke-width="1.55"/>
<circle cx="570.40" cy="369.00" r="1.85" fill="#f4f4f4" stroke="#080808" stroke-width="1.55"/>
<circle cx="570.40" cy="371.40" r="1.85" fill="#f4f4f4" stroke="#080808" stroke-width="1.55"/>
<line x1="336.00" y1="330.00" x2="336.00" y2="373.20" stroke="#222" stroke-width="1.3" stroke-linecap="butt"/>
<line x1="333.40" y1="373.20" x2="338.60" y2="373.20" stroke="#222" stroke-width="1.1" stroke-linecap="butt"/>
<line x1="336.00" y1="380.80" x2="336.00" y2="413.20" stroke="#222" stroke-width="1.3" stroke-linecap="butt"/>
<line x1="333.40" y1="380.80" x2="338.60" y2="380.80" stroke="#222" stroke-width="1.1" stroke-linecap="butt"/>
<line x1="333.40" y1="413.20" x2="338.60" y2="413.20" stroke="#222" stroke-width="1.1" stroke-linecap="butt"/>
<line x1="336.00" y1="420.40" x2="336.00" y2="437.30" stroke="#222" stroke-width="1.3" stroke-linecap="butt"/>
<line x1="333.40" y1="420.40" x2="338.60" y2="420.40" stroke="#222" stroke-width="1.1" stroke-linecap="butt"/>
<line x1="334.50" y1="436.60" x2="580.00" y2="436.60" stroke="#222" stroke-width="1.4" stroke-linecap="butt"/>
<line x1="333.20" y1="330.40" x2="336.00" y2="330.40" stroke="#222" stroke-width="1.0" stroke-linecap="butt"/>
<text x="331.20" y="334.05" font-size="10.20" text-anchor="end" stroke="#242424" stroke-width="0.3" fill="#242424">40000</text>
<line x1="333.20" y1="344.60" x2="336.00" y2="344.60" stroke="#222" stroke-width="1.0" stroke-linecap="butt"/>
<text x="331.20" y="348.25" font-size="10.20" text-anchor="end" stroke="#242424" stroke-width="0.3" fill="#242424">30000</text>
<line x1="333.20" y1="358.80" x2="336.00" y2="358.80" stroke="#222" stroke-width="1.0" stroke-linecap="butt"/>
<text x="331.20" y="362.45" font-size="10.20" text-anchor="end" stroke="#242424" stroke-width="0.3" fill="#242424">20000</text>
<line x1="333.20" y1="373.00" x2="336.00" y2="373.00" stroke="#222" stroke-width="1.0" stroke-linecap="butt"/>
<text x="331.20" y="376.65" font-size="10.20" text-anchor="end" stroke="#242424" stroke-width="0.3" fill="#242424">10000</text>
<line x1="333.20" y1="381.50" x2="336.00" y2="381.50" stroke="#222" stroke-width="1.0" stroke-linecap="butt"/>
<text x="331.20" y="385.15" font-size="10.20" text-anchor="end" stroke="#242424" stroke-width="0.3" fill="#242424">8000</text>
<line x1="333.20" y1="391.60" x2="336.00" y2="391.60" stroke="#222" stroke-width="1.0" stroke-linecap="butt"/>
<text x="331.20" y="395.25" font-size="10.20" text-anchor="end" stroke="#242424" stroke-width="0.3" fill="#242424">6000</text>
<line x1="333.20" y1="401.70" x2="336.00" y2="401.70" stroke="#222" stroke-width="1.0" stroke-linecap="butt"/>
<text x="331.20" y="405.35" font-size="10.20" text-anchor="end" stroke="#242424" stroke-width="0.3" fill="#242424">4000</text>
<line x1="333.20" y1="411.90" x2="336.00" y2="411.90" stroke="#222" stroke-width="1.0" stroke-linecap="butt"/>
<text x="331.20" y="415.55" font-size="10.20" text-anchor="end" stroke="#242424" stroke-width="0.3" fill="#242424">2000</text>
<line x1="333.20" y1="420.40" x2="336.00" y2="420.40" stroke="#222" stroke-width="1.0" stroke-linecap="butt"/>
<text x="331.20" y="424.05" font-size="10.20" text-anchor="end" stroke="#242424" stroke-width="0.3" fill="#242424">1000</text>
<line x1="333.20" y1="428.90" x2="336.00" y2="428.90" stroke="#222" stroke-width="1.0" stroke-linecap="butt"/>
<text x="331.20" y="432.55" font-size="10.20" text-anchor="end" stroke="#242424" stroke-width="0.3" fill="#242424">500</text>
<line x1="333.20" y1="437.00" x2="336.00" y2="437.00" stroke="#222" stroke-width="1.0" stroke-linecap="butt"/>
<text x="331.20" y="440.65" font-size="10.20" text-anchor="end" stroke="#242424" stroke-width="0.3" fill="#242424">0</text>
<rect x="418.00" y="327.40" width="10.20" height="5.00" fill="#1f48aa"/>
<text x="432.20" y="333.06" font-size="9.10" text-anchor="start" stroke="#2a50b4" stroke-width="0.3" fill="#2a50b4">Control</text>
<rect x="418.00" y="339.40" width="10.20" height="5.20" fill="#e3191f"/>
<text x="433.60" y="345.46" font-size="9.10" text-anchor="start" stroke="#e02a2e" stroke-width="0.3" fill="#e02a2e">Nigericin</text>
<line x1="367.60" y1="387.40" x2="391.60" y2="387.40" stroke="#3a3a3a" stroke-width="1.8" stroke-linecap="butt"/>
<text x="379.60" y="387.08" font-size="14.20" text-anchor="middle" stroke="#242424" stroke-width="0.3" fill="#242424">***</text>
<line x1="381.90" y1="334.80" x2="405.80" y2="334.80" stroke="#3a3a3a" stroke-width="1.8" stroke-linecap="butt"/>
<text x="394.60" y="335.28" font-size="14.20" text-anchor="middle" stroke="#242424" stroke-width="0.3" fill="#242424">***</text>
<text transform="translate(349.00,446.00) rotate(-90)" x="0" y="4.30" font-size="12.00" text-anchor="end" stroke="#242424" stroke-width="0.3" fill="#242424">Mock</text>
<text transform="translate(374.20,446.00) rotate(-90)" x="0" y="4.30" font-size="12.00" text-anchor="end" stroke="#242424" stroke-width="0.3" fill="#242424">Lipo</text>
<text x="398.00" y="457.32" font-size="11.50" text-anchor="middle" stroke="#242424" stroke-width="0.3" fill="#242424">N</text>
<text x="421.60" y="457.32" font-size="11.50" text-anchor="middle" stroke="#242424" stroke-width="0.3" fill="#242424">M</text>
<text x="445.00" y="457.32" font-size="11.50" text-anchor="middle" stroke="#242424" stroke-width="0.3" fill="#242424">E</text>
<text x="468.20" y="457.32" font-size="11.50" text-anchor="middle" stroke="#242424" stroke-width="0.3" fill="#242424">3a</text>
<text x="493.30" y="457.32" font-size="11.50" text-anchor="middle" stroke="#242424" stroke-width="0.3" fill="#242424">6</text>
<text x="516.90" y="457.32" font-size="11.50" text-anchor="middle" stroke="#242424" stroke-width="0.3" fill="#242424">7a</text>
<text x="541.60" y="457.32" font-size="11.50" text-anchor="middle" stroke="#242424" stroke-width="0.3" fill="#242424">8</text>
<text x="565.00" y="456.12" font-size="11.50" text-anchor="middle" stroke="#242424" stroke-width="0.3" fill="#242424">10</text>
<line x1="387.60" y1="465.40" x2="578.00" y2="465.40" stroke="#303030" stroke-width="1.9" stroke-linecap="butt"/>
<text x="485.40" y="480.97" font-size="11.94" text-anchor="middle" stroke="#242424" stroke-width="0.3" fill="#242424">SARS-CoV-2 Protein</text>
<text transform="translate(288.30,381.90) rotate(-90)" x="0" y="4.33" font-size="12.10" text-anchor="middle" stroke="#242424" stroke-width="0.3" fill="#242424">IL-1β (pg/ml)</text>
<text x="639.50" y="287.00" font-size="25.00" text-anchor="middle" font-weight="700" fill="#000">f</text>
<text x="736.05" y="310.40" font-size="11.46" text-anchor="middle" stroke="#242424" stroke-width="0.3" fill="#242424">THP-1</text>
<line x1="696.50" y1="320.50" x2="768.40" y2="320.50" stroke="#303030" stroke-width="1.9" stroke-linecap="butt"/>
<text x="785.45" y="336.35" font-size="11.59" text-anchor="middle" stroke="#242424" stroke-width="0.3" fill="#242424">KD</text>
<rect x="697.00" y="346.40" width="74.70" height="15.80" fill="#eeeeee" stroke="#444" stroke-width="1.1"/>
<rect x="748.70" y="349.70" width="21.00" height="9.00" rx="3.50" fill="#0c0c0c" opacity="0.55" filter="url(#bl12)"/>
<ellipse cx="759.20" cy="354.20" rx="9.87" ry="3.24" fill="#0c0c0c" opacity="1.0" filter="url(#bl5)"/>
<rect x="697.00" y="374.50" width="74.70" height="15.00" fill="#efefef" stroke="#444" stroke-width="1.1"/>
<rect x="699.35" y="376.50" width="22.50" height="10.20" rx="5.10" fill="#040404" opacity="0.55" filter="url(#bl10)"/>
<ellipse cx="710.60" cy="381.60" rx="10.57" ry="3.67" fill="#040404" opacity="1.0" filter="url(#bl5)"/>
<rect x="725.25" y="378.90" width="18.50" height="3.80" rx="1.90" fill="#151515" opacity="0.55" filter="url(#bl8)"/>
<ellipse cx="734.50" cy="380.80" rx="8.70" ry="1.37" fill="#151515" opacity="1.0" filter="url(#bl5)"/>
<rect x="748.50" y="378.60" width="21.00" height="5.60" rx="2.80" fill="#0a0a0a" opacity="0.55" filter="url(#bl9)"/>
<ellipse cx="759.00" cy="381.40" rx="9.87" ry="2.02" fill="#0a0a0a" opacity="1.0" filter="url(#bl5)"/>
<line x1="772.30" y1="351.00" x2="778.40" y2="351.00" stroke="#222" stroke-width="1.5" stroke-linecap="butt"/>
<text x="782.40" y="355.38" font-size="11.40" text-anchor="start" stroke="#242424" stroke-width="0.3" fill="#242424">55</text>
<line x1="772.30" y1="386.50" x2="778.40" y2="386.50" stroke="#222" stroke-width="1.5" stroke-linecap="butt"/>
<text x="782.40" y="390.08" font-size="11.40" text-anchor="start" stroke="#242424" stroke-width="0.3" fill="#242424">40</text>
<text x="686.70" y="359.17" font-size="11.08" text-anchor="middle" stroke="#242424" stroke-width="0.3" fill="#242424">N</text>
<text x="674.80" y="386.44" font-size="11.85" text-anchor="middle" stroke="#242424" stroke-width="0.3" fill="#242424">β-actin</text>
<text x="659.75" y="410.31" font-size="12.04" text-anchor="middle" stroke="#242424" stroke-width="0.3" fill="#242424">CT-Lentivirus</text>
<text x="663.90" y="427.00" font-size="11.73" text-anchor="middle" stroke="#242424" stroke-width="0.3" fill="#242424">N-Lentivirus</text>
<text x="711.50" y="408.94" font-size="12.50" text-anchor="middle" stroke="#333" stroke-width="0.3" fill="#333">-</text>
<text x="711.50" y="425.74" font-size="12.50" text-anchor="middle" stroke="#333" stroke-width="0.3" fill="#333">-</text>
<text x="734.60" y="409.76" font-size="12.50" text-anchor="middle" stroke="#222" stroke-width="0.3" fill="#222">+</text>
<text x="734.60" y="425.74" font-size="12.50" text-anchor="middle" stroke="#333" stroke-width="0.3" fill="#333">-</text>
<text x="758.60" y="407.54" font-size="12.50" text-anchor="middle" stroke="#333" stroke-width="0.3" fill="#333">-</text>
<text x="758.60" y="426.56" font-size="12.50" text-anchor="middle" stroke="#222" stroke-width="0.3" fill="#222">+</text>
<text x="16.20" y="520.30" font-size="25.00" text-anchor="middle" font-weight="700" fill="#000">g</text>
<text x="140.50" y="534.74" font-size="11.56" text-anchor="middle" stroke="#242424" stroke-width="0.3" fill="#242424">THP-1</text>
<line x1="64.70" y1="544.00" x2="226.00" y2="544.00" stroke="#3c3c3c" stroke-width="1.9" stroke-linecap="butt"/>
<rect x="63.40" y="553.60" width="43.17" height="21.12" fill="#ef9092" shape-rendering="crispEdges"/>
<rect x="106.07" y="553.60" width="43.17" height="21.12" fill="#df1c21" shape-rendering="crispEdges"/>
<rect x="148.73" y="553.60" width="42.67" height="21.12" fill="#ec797b" shape-rendering="crispEdges"/>
<rect x="63.40" y="574.22" width="43.17" height="21.12" fill="#ef9092" shape-rendering="crispEdges"/>
<rect x="106.07" y="574.22" width="43.17" height="21.12" fill="#e0252a" shape-rendering="crispEdges"/>
<rect x="148.73" y="574.22" width="42.67" height="21.12" fill="#f8d1d2" shape-rendering="crispEdges"/>
<rect x="63.40" y="594.84" width="43.17" height="21.12" fill="#ef9092" shape-rendering="crispEdges"/>
<rect x="106.07" y="594.84" width="43.17" height="21.12" fill="#1d0808" shape-rendering="crispEdges"/>
<rect x="148.73" y="594.84" width="42.67" height="21.12" fill="#e22d31" shape-rendering="crispEdges"/>
<rect x="63.40" y="615.45" width="43.17" height="21.12" fill="#ef9092" shape-rendering="crispEdges"/>
<rect x="106.07" y="615.45" width="43.17" height="21.12" fill="#110404" shape-rendering="crispEdges"/>
<rect x="148.73" y="615.45" width="42.67" height="21.12" fill="#a71c20" shape-rendering="crispEdges"/>
<rect x="63.40" y="636.07" width="43.17" height="21.12" fill="#ef9092" shape-rendering="crispEdges"/>
<rect x="106.07" y="636.07" width="43.17" height="21.12" fill="#e3181d" shape-rendering="crispEdges"/>
<rect x="148.73" y="636.07" width="42.67" height="21.12" fill="#fad9d9" shape-rendering="crispEdges"/>
<rect x="63.40" y="656.69" width="43.17" height="21.12" fill="#ef9092" shape-rendering="crispEdges"/>
<rect x="106.07" y="656.69" width="43.17" height="21.12" fill="#e0141a" shape-rendering="crispEdges"/>
<rect x="148.73" y="656.69" width="42.67" height="21.12" fill="#ffffff" shape-rendering="crispEdges"/>
<rect x="63.40" y="677.31" width="43.17" height="21.12" fill="#ef9092" shape-rendering="crispEdges"/>
<rect x="106.07" y="677.31" width="43.17" height="21.12" fill="#390a0c" shape-rendering="crispEdges"/>
<rect x="148.73" y="677.31" width="42.67" height="21.12" fill="#5d1216" shape-rendering="crispEdges"/>
<rect x="63.40" y="697.93" width="43.17" height="21.12" fill="#ef9092" shape-rendering="crispEdges"/>
<rect x="106.07" y="697.93" width="43.17" height="21.12" fill="#e84547" shape-rendering="crispEdges"/>
<rect x="148.73" y="697.93" width="42.67" height="21.12" fill="#f4a9ab" shape-rendering="crispEdges"/>
<rect x="63.40" y="718.55" width="43.17" height="21.12" fill="#ef9092" shape-rendering="crispEdges"/>
<rect x="106.07" y="718.55" width="43.17" height="21.12" fill="#f4a9ab" shape-rendering="crispEdges"/>
<rect x="148.73" y="718.55" width="42.67" height="21.12" fill="#e85155" shape-rendering="crispEdges"/>
<rect x="63.40" y="739.16" width="43.17" height="21.12" fill="#ef9092" shape-rendering="crispEdges"/>
<rect x="106.07" y="739.16" width="43.17" height="21.12" fill="#fbe1e1" shape-rendering="crispEdges"/>
<rect x="148.73" y="739.16" width="42.67" height="21.12" fill="#e8595b" shape-rendering="crispEdges"/>
<rect x="63.40" y="759.78" width="43.17" height="20.62" fill="#ef9092" shape-rendering="crispEdges"/>
<rect x="106.07" y="759.78" width="43.17" height="20.62" fill="#ec7578" shape-rendering="crispEdges"/>
<rect x="148.73" y="759.78" width="42.67" height="20.62" fill="#e22d31" shape-rendering="crispEdges"/>
<line x1="63.40" y1="574.22" x2="191.40" y2="574.22" stroke="#f7d9d9" stroke-width="0.8" stroke-linecap="butt"/>
<line x1="63.40" y1="594.84" x2="191.40" y2="594.84" stroke="#f7d9d9" stroke-width="0.8" stroke-linecap="butt"/>
<line x1="63.40" y1="615.45" x2="191.40" y2="615.45" stroke="#f7d9d9" stroke-width="0.8" stroke-linecap="butt"/>
<line x1="63.40" y1="636.07" x2="191.40" y2="636.07" stroke="#f7d9d9" stroke-width="0.8" stroke-linecap="butt"/>
<line x1="63.40" y1="656.69" x2="191.40" y2="656.69" stroke="#f7d9d9" stroke-width="0.8" stroke-linecap="butt"/>
<line x1="63.40" y1="677.31" x2="191.40" y2="677.31" stroke="#f7d9d9" stroke-width="0.8" stroke-linecap="butt"/>
<line x1="63.40" y1="697.93" x2="191.40" y2="697.93" stroke="#f7d9d9" stroke-width="0.8" stroke-linecap="butt"/>
<line x1="63.40" y1="718.55" x2="191.40" y2="718.55" stroke="#f7d9d9" stroke-width="0.8" stroke-linecap="butt"/>
<line x1="63.40" y1="739.16" x2="191.40" y2="739.16" stroke="#f7d9d9" stroke-width="0.8" stroke-linecap="butt"/>
<line x1="63.40" y1="759.78" x2="191.40" y2="759.78" stroke="#f7d9d9" stroke-width="0.8" stroke-linecap="butt"/>
<rect x="63.40" y="553.60" width="128.00" height="226.80" fill="none" stroke="#1a1a1a" stroke-width="1.2"/>
<text x="58.50" y="566.02" font-size="11.50" text-anchor="end" stroke="#242424" stroke-width="0.3" fill="#242424">IL-1β</text>
<text x="58.50" y="591.32" font-size="11.50" text-anchor="end" stroke="#242424" stroke-width="0.3" fill="#242424">IL-6</text>
<text x="58.50" y="613.32" font-size="11.50" text-anchor="end" stroke="#242424" stroke-width="0.3" fill="#242424">TNF</text>
<text x="58.50" y="633.12" font-size="11.50" text-anchor="end" stroke="#242424" stroke-width="0.3" fill="#242424">CXCL10</text>
<text x="58.50" y="653.02" font-size="11.50" text-anchor="end" stroke="#242424" stroke-width="0.3" fill="#242424">IL-11</text>
<text x="58.50" y="672.92" font-size="11.50" text-anchor="end" stroke="#242424" stroke-width="0.3" fill="#242424">IL-13</text>
<text x="58.50" y="696.12" font-size="11.50" text-anchor="end" stroke="#242424" stroke-width="0.3" fill="#242424">CCL2</text>
<text x="58.50" y="715.62" font-size="11.50" text-anchor="end" stroke="#242424" stroke-width="0.3" fill="#242424">CXCL8</text>
<text x="58.50" y="736.32" font-size="11.50" text-anchor="end" stroke="#242424" stroke-width="0.3" fill="#242424">IL-18</text>
<text x="58.50" y="756.12" font-size="11.50" text-anchor="end" stroke="#242424" stroke-width="0.3" fill="#242424">IL-10</text>
<text x="58.50" y="775.62" font-size="11.50" text-anchor="end" stroke="#242424" stroke-width="0.3" fill="#242424">VEGFA</text>
<defs><linearGradient id="cb3" x1="0" y1="0" x2="0" y2="1"><stop offset="0" stop-color="#050202"/><stop offset="0.08" stop-color="#1a0506"/><stop offset="0.2" stop-color="#4a0d10"/><stop offset="0.36" stop-color="#a0181d"/><stop offset="0.52" stop-color="#e3151b"/><stop offset="0.66" stop-color="#e8484a"/><stop offset="0.8" stop-color="#f08a8c"/><stop offset="0.92" stop-color="#f8cfd0"/><stop offset="1" stop-color="#fef6f6"/></linearGradient></defs>
<rect x="203.40" y="665.00" width="23.60" height="115.20" fill="url(#cb3)" stroke="#111" stroke-width="1.3"/>
<line x1="203.40" y1="686.50" x2="206.00" y2="686.50" stroke="#111" stroke-width="0.9" stroke-linecap="butt"/>
<line x1="224.40" y1="686.50" x2="227.00" y2="686.50" stroke="#111" stroke-width="0.9" stroke-linecap="butt"/>
<text x="233.00" y="690.67" font-size="12.20" text-anchor="start" stroke="#242424" stroke-width="0.3" fill="#242424">2.5</text>
<line x1="203.40" y1="709.80" x2="206.00" y2="709.80" stroke="#111" stroke-width="0.9" stroke-linecap="butt"/>
<line x1="224.40" y1="709.80" x2="227.00" y2="709.80" stroke="#111" stroke-width="0.9" stroke-linecap="butt"/>
<text x="233.00" y="713.97" font-size="12.20" text-anchor="start" stroke="#242424" stroke-width="0.3" fill="#242424">2.0</text>
<line x1="203.40" y1="733.00" x2="206.00" y2="733.00" stroke="#111" stroke-width="0.9" stroke-linecap="butt"/>
<line x1="224.40" y1="733.00" x2="227.00" y2="733.00" stroke="#111" stroke-width="0.9" stroke-linecap="butt"/>
<text x="233.00" y="737.17" font-size="12.20" text-anchor="start" stroke="#242424" stroke-width="0.3" fill="#242424">1.5</text>
<line x1="203.40" y1="756.70" x2="206.00" y2="756.70" stroke="#111" stroke-width="0.9" stroke-linecap="butt"/>
<line x1="224.40" y1="756.70" x2="227.00" y2="756.70" stroke="#111" stroke-width="0.9" stroke-linecap="butt"/>
<text x="233.00" y="760.87" font-size="12.20" text-anchor="start" stroke="#242424" stroke-width="0.3" fill="#242424">1.0</text>
<text x="35.50" y="802.67" font-size="11.64" text-anchor="middle" stroke="#242424" stroke-width="0.3" fill="#242424">Lentivirus</text>
<text x="82.40" y="802.51" font-size="11.20" text-anchor="middle" stroke="#242424" stroke-width="0.3" fill="#242424">CT</text>
<text x="126.00" y="802.51" font-size="11.20" text-anchor="middle" stroke="#242424" stroke-width="0.3" fill="#242424">N</text>
<text x="168.20" y="802.51" font-size="11.20" text-anchor="middle" stroke="#242424" stroke-width="0.3" fill="#242424">N+</text>
<text x="168.00" y="818.26" font-size="11.91" text-anchor="middle" stroke="#242424" stroke-width="0.3" fill="#242424">MCC950</text>
<text x="307.50" y="519.80" font-size="25.00" text-anchor="middle" font-weight="700" fill="#000">h</text>
<text x="374.55" y="543.68" font-size="11.96" text-anchor="middle" stroke="#242424" stroke-width="0.3" fill="#242424">Mice Liver</text>
<text x="428.00" y="547.82" font-size="11.52" text-anchor="middle" stroke="#242424" stroke-width="0.3" fill="#242424">KD</text>
<line x1="328.30" y1="551.10" x2="417.00" y2="551.10" stroke="#303030" stroke-width="1.9" stroke-linecap="butt"/>
<rect x="330.00" y="557.60" width="87.90" height="14.80" fill="#e6e6e6" stroke="#444" stroke-width="1.1"/>
<rect x="352.5" y="558.6" width="3.5" height="12.8" fill="#f4f4f4" opacity="0.8" filter="url(#bl12)"/>
<rect x="377" y="558.6" width="3.5" height="12.8" fill="#f4f4f4" opacity="0.8" filter="url(#bl12)"/>
<rect x="397.5" y="558.6" width="3.5" height="12.8" fill="#f4f4f4" opacity="0.8" filter="url(#bl12)"/>
<rect x="330.00" y="578.70" width="87.90" height="16.10" fill="#e9e9e9" stroke="#444" stroke-width="1.1"/>
<rect x="331.50" y="581.10" width="21.00" height="11.00" rx="5.50" fill="#030303" opacity="0.55" filter="url(#bl10)"/>
<ellipse cx="342.00" cy="586.60" rx="9.87" ry="3.96" fill="#030303" opacity="1.0" filter="url(#bl5)"/>
<rect x="353.00" y="582.10" width="21.00" height="9.00" rx="4.50" fill="#030303" opacity="0.55" filter="url(#bl10)"/>
<ellipse cx="363.50" cy="586.60" rx="9.87" ry="3.24" fill="#030303" opacity="1.0" filter="url(#bl5)"/>
<rect x="374.00" y="581.90" width="21.00" height="9.00" rx="4.50" fill="#030303" opacity="0.55" filter="url(#bl10)"/>
<ellipse cx="384.50" cy="586.40" rx="9.87" ry="3.24" fill="#030303" opacity="1.0" filter="url(#bl5)"/>
<rect x="394.50" y="581.60" width="21.00" height="8.40" rx="4.20" fill="#030303" opacity="0.55" filter="url(#bl10)"/>
<ellipse cx="405.00" cy="585.80" rx="9.87" ry="3.02" fill="#030303" opacity="1.0" filter="url(#bl5)"/>
<rect x="333.00" y="584.30" width="82.00" height="5.00" rx="2.50" fill="#060606" opacity="0.55" filter="url(#bl9)"/>
<ellipse cx="374.00" cy="586.80" rx="38.54" ry="1.80" fill="#060606" opacity="1.0" filter="url(#bl5)"/>
<line x1="418.40" y1="561.00" x2="424.20" y2="561.00" stroke="#222" stroke-width="1.5" stroke-linecap="butt"/>
<text x="427.20" y="565.81" font-size="11.20" text-anchor="start" stroke="#242424" stroke-width="0.3" fill="#242424">55</text>
<line x1="418.40" y1="590.50" x2="424.20" y2="590.50" stroke="#222" stroke-width="1.5" stroke-linecap="butt"/>
<text x="427.20" y="594.81" font-size="11.20" text-anchor="start" stroke="#242424" stroke-width="0.3" fill="#242424">40</text>
<text x="320.75" y="569.41" font-size="11.77" text-anchor="middle" stroke="#242424" stroke-width="0.3" fill="#242424">N</text>
<text x="305.70" y="591.47" font-size="11.92" text-anchor="middle" stroke="#242424" stroke-width="0.3" fill="#242424">β-actin</text>
<text x="371.20" y="619.77" font-size="11.92" text-anchor="middle" stroke="#242424" stroke-width="0.3" fill="#242424">Mice Spleen</text>
<line x1="330.40" y1="627.60" x2="415.00" y2="627.60" stroke="#303030" stroke-width="1.9" stroke-linecap="butt"/>
<rect x="331.30" y="633.60" width="84.50" height="14.80" fill="#ededed" stroke="#444" stroke-width="1.1"/>
<rect x="331.30" y="654.80" width="84.50" height="16.90" fill="#ececec" stroke="#444" stroke-width="1.1"/>
<rect x="332.50" y="659.50" width="19.00" height="6.60" rx="3.30" fill="#0a0a0a" opacity="0.55" filter="url(#bl9)"/>
<ellipse cx="342.00" cy="662.80" rx="8.93" ry="2.38" fill="#0a0a0a" opacity="1.0" filter="url(#bl5)"/>
<rect x="353.50" y="660.20" width="18.00" height="6.40" rx="3.20" fill="#0a0a0a" opacity="0.55" filter="url(#bl9)"/>
<ellipse cx="362.50" cy="663.40" rx="8.46" ry="2.30" fill="#0a0a0a" opacity="1.0" filter="url(#bl5)"/>
<rect x="375.00" y="662.30" width="13.00" height="5.40" rx="2.70" fill="#0a0a0a" opacity="0.55" filter="url(#bl9)"/>
<ellipse cx="381.50" cy="665.00" rx="6.11" ry="1.94" fill="#0a0a0a" opacity="1.0" filter="url(#bl5)"/>
<rect x="393.50" y="660.50" width="19.00" height="6.20" rx="3.10" fill="#0a0a0a" opacity="0.55" filter="url(#bl9)"/>
<ellipse cx="403.00" cy="663.60" rx="8.93" ry="2.23" fill="#0a0a0a" opacity="1.0" filter="url(#bl5)"/>
<line x1="416.30" y1="637.90" x2="422.30" y2="637.90" stroke="#222" stroke-width="1.5" stroke-linecap="butt"/>
<text x="425.40" y="642.21" font-size="11.20" text-anchor="start" stroke="#242424" stroke-width="0.3" fill="#242424">55</text>
<line x1="416.30" y1="669.00" x2="422.30" y2="669.00" stroke="#222" stroke-width="1.5" stroke-linecap="butt"/>
<text x="425.40" y="673.31" font-size="11.20" text-anchor="start" stroke="#242424" stroke-width="0.3" fill="#242424">40</text>
<text x="321.75" y="645.01" font-size="11.77" text-anchor="middle" stroke="#242424" stroke-width="0.3" fill="#242424">N</text>
<text x="308.20" y="667.47" font-size="11.92" text-anchor="middle" stroke="#242424" stroke-width="0.3" fill="#242424">β-actin</text>
<text x="375.60" y="696.25" font-size="11.88" text-anchor="middle" stroke="#242424" stroke-width="0.3" fill="#242424">Mice Lung</text>
<line x1="333.40" y1="701.20" x2="412.80" y2="701.20" stroke="#303030" stroke-width="1.9" stroke-linecap="butt"/>
<rect x="332.00" y="708.40" width="81.70" height="15.80" fill="#eeeeee" stroke="#444" stroke-width="1.1"/>
<rect x="372.70" y="712.70" width="17.00" height="8.60" rx="4.30" fill="#060606" opacity="0.55" filter="url(#bl10)"/>
<ellipse cx="381.20" cy="717.00" rx="7.99" ry="3.10" fill="#060606" opacity="1.0" filter="url(#bl5)"/>
<rect x="394.50" y="715.60" width="15.00" height="4.00" rx="2.00" fill="#808080" opacity="0.55" filter="url(#bl12)"/>
<ellipse cx="402.00" cy="717.60" rx="7.05" ry="1.44" fill="#808080" opacity="1.0" filter="url(#bl5)"/>
<rect x="332.00" y="730.80" width="81.70" height="16.00" fill="#ececec" stroke="#444" stroke-width="1.1"/>
<rect x="332.50" y="734.60" width="19.00" height="7.60" rx="3.80" fill="#0a0a0a" opacity="0.55" filter="url(#bl9)"/>
<ellipse cx="342.00" cy="738.40" rx="8.93" ry="2.74" fill="#0a0a0a" opacity="1.0" filter="url(#bl5)"/>
<rect x="353.00" y="734.80" width="19.00" height="7.20" rx="3.60" fill="#0a0a0a" opacity="0.55" filter="url(#bl9)"/>
<ellipse cx="362.50" cy="738.40" rx="8.93" ry="2.59" fill="#0a0a0a" opacity="1.0" filter="url(#bl5)"/>
<rect x="374.50" y="736.10" width="14.00" height="4.20" rx="2.10" fill="#0a0a0a" opacity="0.55" filter="url(#bl9)"/>
<ellipse cx="381.50" cy="738.20" rx="6.58" ry="1.51" fill="#0a0a0a" opacity="1.0" filter="url(#bl5)"/>
<rect x="393.00" y="734.50" width="19.00" height="8.20" rx="4.10" fill="#0a0a0a" opacity="0.55" filter="url(#bl9)"/>
<ellipse cx="402.50" cy="738.60" rx="8.93" ry="2.95" fill="#0a0a0a" opacity="1.0" filter="url(#bl5)"/>
<line x1="414.20" y1="711.00" x2="420.30" y2="711.00" stroke="#222" stroke-width="1.5" stroke-linecap="butt"/>
<text x="422.70" y="715.41" font-size="11.20" text-anchor="start" stroke="#242424" stroke-width="0.3" fill="#242424">55</text>
<line x1="414.20" y1="742.60" x2="420.30" y2="742.60" stroke="#222" stroke-width="1.5" stroke-linecap="butt"/>
<text x="422.70" y="746.91" font-size="11.20" text-anchor="start" stroke="#242424" stroke-width="0.3" fill="#242424">40</text>
<text x="322.75" y="721.11" font-size="11.77" text-anchor="middle" stroke="#242424" stroke-width="0.3" fill="#242424">N</text>
<text x="309.80" y="743.57" font-size="11.92" text-anchor="middle" stroke="#242424" stroke-width="0.3" fill="#242424">β-actin</text>
<text x="345.20" y="760.94" font-size="11.00" text-anchor="middle" stroke="#242424" stroke-width="0.3" fill="#242424">#1</text>
<text x="362.50" y="760.94" font-size="11.00" text-anchor="middle" stroke="#242424" stroke-width="0.3" fill="#242424">#2</text>
<text x="382.00" y="760.94" font-size="11.00" text-anchor="middle" stroke="#242424" stroke-width="0.3" fill="#242424">#1</text>
<text x="402.20" y="760.94" font-size="11.00" text-anchor="middle" stroke="#242424" stroke-width="0.3" fill="#242424">#2</text>
<line x1="338.40" y1="767.60" x2="367.20" y2="767.60" stroke="#303030" stroke-width="1.9" stroke-linecap="butt"/>
<line x1="376.90" y1="767.60" x2="406.50" y2="767.60" stroke="#303030" stroke-width="1.9" stroke-linecap="butt"/>
<text x="346.45" y="783.76" font-size="12.18" text-anchor="middle" stroke="#242424" stroke-width="0.3" fill="#242424">AAV-CT</text>
<text x="392.55" y="783.74" font-size="12.13" text-anchor="middle" stroke="#242424" stroke-width="0.3" fill="#242424">AAV-N</text>
<text x="495.80" y="520.00" font-size="25.00" text-anchor="middle" font-weight="700" fill="#000">i</text>
<text x="634.00" y="533.67" font-size="11.92" text-anchor="middle" stroke="#242424" stroke-width="0.3" fill="#242424">Mice Lung</text>
<line x1="514.80" y1="542.30" x2="776.50" y2="542.30" stroke="#3c3c3c" stroke-width="1.9" stroke-linecap="butt"/>
<rect x="514.00" y="552.60" width="44.20" height="18.32" fill="#f08286" shape-rendering="crispEdges"/>
<rect x="557.70" y="552.60" width="44.20" height="18.32" fill="#f4a1a5" shape-rendering="crispEdges"/>
<rect x="601.40" y="552.60" width="44.20" height="18.32" fill="#d71c20" shape-rendering="crispEdges"/>
<rect x="645.10" y="552.60" width="44.20" height="18.32" fill="#f4a5a9" shape-rendering="crispEdges"/>
<rect x="688.80" y="552.60" width="43.70" height="18.32" fill="#faddde" shape-rendering="crispEdges"/>
<rect x="514.00" y="570.42" width="44.20" height="18.32" fill="#f08286" shape-rendering="crispEdges"/>
<rect x="557.70" y="570.42" width="44.20" height="18.32" fill="#ec6569" shape-rendering="crispEdges"/>
<rect x="601.40" y="570.42" width="44.20" height="18.32" fill="#d7181c" shape-rendering="crispEdges"/>
<rect x="645.10" y="570.42" width="44.20" height="18.32" fill="#fce9e9" shape-rendering="crispEdges"/>
<rect x="688.80" y="570.42" width="43.70" height="18.32" fill="#fdefef" shape-rendering="crispEdges"/>
<rect x="514.00" y="588.25" width="44.20" height="18.32" fill="#f08286" shape-rendering="crispEdges"/>
<rect x="557.70" y="588.25" width="44.20" height="18.32" fill="#f0898d" shape-rendering="crispEdges"/>
<rect x="601.40" y="588.25" width="44.20" height="18.32" fill="#8b181c" shape-rendering="crispEdges"/>
<rect x="645.10" y="588.25" width="44.20" height="18.32" fill="#fefaf7" shape-rendering="crispEdges"/>
<rect x="688.80" y="588.25" width="43.70" height="18.32" fill="#ffffff" shape-rendering="crispEdges"/>
<rect x="514.00" y="606.07" width="44.20" height="18.32" fill="#f08286" shape-rendering="crispEdges"/>
<rect x="557.70" y="606.07" width="44.20" height="18.32" fill="#af181c" shape-rendering="crispEdges"/>
<rect x="601.40" y="606.07" width="44.20" height="18.32" fill="#080202" shape-rendering="crispEdges"/>
<rect x="645.10" y="606.07" width="44.20" height="18.32" fill="#ec6d71" shape-rendering="crispEdges"/>
<rect x="688.80" y="606.07" width="43.70" height="18.32" fill="#e43d41" shape-rendering="crispEdges"/>
<rect x="514.00" y="623.89" width="44.20" height="18.32" fill="#f08286" shape-rendering="crispEdges"/>
<rect x="557.70" y="623.89" width="44.20" height="18.32" fill="#f6b5b7" shape-rendering="crispEdges"/>
<rect x="601.40" y="623.89" width="44.20" height="18.32" fill="#e43539" shape-rendering="crispEdges"/>
<rect x="645.10" y="623.89" width="44.20" height="18.32" fill="#f4a5a9" shape-rendering="crispEdges"/>
<rect x="688.80" y="623.89" width="43.70" height="18.32" fill="#f8c5c7" shape-rendering="crispEdges"/>
<rect x="514.00" y="641.72" width="44.20" height="18.32" fill="#f08286" shape-rendering="crispEdges"/>
<rect x="557.70" y="641.72" width="44.20" height="18.32" fill="#ee797d" shape-rendering="crispEdges"/>
<rect x="601.40" y="641.72" width="44.20" height="18.32" fill="#e23135" shape-rendering="crispEdges"/>
<rect x="645.10" y="641.72" width="44.20" height="18.32" fill="#f4adb1" shape-rendering="crispEdges"/>
<rect x="688.80" y="641.72" width="43.70" height="18.32" fill="#fce5e5" shape-rendering="crispEdges"/>
<rect x="514.00" y="659.54" width="44.20" height="18.32" fill="#f08286" shape-rendering="crispEdges"/>
<rect x="557.70" y="659.54" width="44.20" height="18.32" fill="#e84d51" shape-rendering="crispEdges"/>
<rect x="601.40" y="659.54" width="44.20" height="18.32" fill="#731418" shape-rendering="crispEdges"/>
<rect x="645.10" y="659.54" width="44.20" height="18.32" fill="#e01419" shape-rendering="crispEdges"/>
<rect x="688.80" y="659.54" width="43.70" height="18.32" fill="#e43539" shape-rendering="crispEdges"/>
<rect x="514.00" y="677.36" width="44.20" height="18.32" fill="#f08286" shape-rendering="crispEdges"/>
<rect x="557.70" y="677.36" width="44.20" height="18.32" fill="#f29599" shape-rendering="crispEdges"/>
<rect x="601.40" y="677.36" width="44.20" height="18.32" fill="#7f161a" shape-rendering="crispEdges"/>
<rect x="645.10" y="677.36" width="44.20" height="18.32" fill="#e43135" shape-rendering="crispEdges"/>
<rect x="688.80" y="677.36" width="43.70" height="18.32" fill="#e85155" shape-rendering="crispEdges"/>
<rect x="514.00" y="695.18" width="44.20" height="18.32" fill="#f08286" shape-rendering="crispEdges"/>
<rect x="557.70" y="695.18" width="44.20" height="18.32" fill="#ea595d" shape-rendering="crispEdges"/>
<rect x="601.40" y="695.18" width="44.20" height="18.32" fill="#d71a1e" shape-rendering="crispEdges"/>
<rect x="645.10" y="695.18" width="44.20" height="18.32" fill="#f29599" shape-rendering="crispEdges"/>
<rect x="688.80" y="695.18" width="43.70" height="18.32" fill="#e42d31" shape-rendering="crispEdges"/>
<rect x="514.00" y="713.01" width="44.20" height="18.32" fill="#f08286" shape-rendering="crispEdges"/>
<rect x="557.70" y="713.01" width="44.20" height="18.32" fill="#e43d41" shape-rendering="crispEdges"/>
<rect x="601.40" y="713.01" width="44.20" height="18.32" fill="#f4a9ad" shape-rendering="crispEdges"/>
<rect x="645.10" y="713.01" width="44.20" height="18.32" fill="#ec6d71" shape-rendering="crispEdges"/>
<rect x="688.80" y="713.01" width="43.70" height="18.32" fill="#fce5e5" shape-rendering="crispEdges"/>
<rect x="514.00" y="730.83" width="44.20" height="18.32" fill="#f08286" shape-rendering="crispEdges"/>
<rect x="557.70" y="730.83" width="44.20" height="18.32" fill="#db1a1e" shape-rendering="crispEdges"/>
<rect x="601.40" y="730.83" width="44.20" height="18.32" fill="#e0161a" shape-rendering="crispEdges"/>
<rect x="645.10" y="730.83" width="44.20" height="18.32" fill="#e0181c" shape-rendering="crispEdges"/>
<rect x="688.80" y="730.83" width="43.70" height="18.32" fill="#e0161a" shape-rendering="crispEdges"/>
<rect x="514.00" y="748.65" width="44.20" height="18.32" fill="#f08286" shape-rendering="crispEdges"/>
<rect x="557.70" y="748.65" width="44.20" height="18.32" fill="#e01c20" shape-rendering="crispEdges"/>
<rect x="601.40" y="748.65" width="44.20" height="18.32" fill="#e64145" shape-rendering="crispEdges"/>
<rect x="645.10" y="748.65" width="44.20" height="18.32" fill="#e43539" shape-rendering="crispEdges"/>
<rect x="688.80" y="748.65" width="43.70" height="18.32" fill="#ee7d81" shape-rendering="crispEdges"/>
<rect x="514.00" y="766.48" width="44.20" height="17.82" fill="#f08286" shape-rendering="crispEdges"/>
<rect x="557.70" y="766.48" width="44.20" height="17.82" fill="#f8c9cb" shape-rendering="crispEdges"/>
<rect x="601.40" y="766.48" width="44.20" height="17.82" fill="#fce1e1" shape-rendering="crispEdges"/>
<rect x="645.10" y="766.48" width="44.20" height="17.82" fill="#fce5e5" shape-rendering="crispEdges"/>
<rect x="688.80" y="766.48" width="43.70" height="17.82" fill="#fffaf7" shape-rendering="crispEdges"/>
<line x1="514.00" y1="570.42" x2="732.50" y2="570.42" stroke="#f8dcdc" stroke-width="0.8" stroke-linecap="butt"/>
<line x1="514.00" y1="588.25" x2="732.50" y2="588.25" stroke="#f8dcdc" stroke-width="0.8" stroke-linecap="butt"/>
<line x1="514.00" y1="606.07" x2="732.50" y2="606.07" stroke="#f8dcdc" stroke-width="0.8" stroke-linecap="butt"/>
<line x1="514.00" y1="623.89" x2="732.50" y2="623.89" stroke="#f8dcdc" stroke-width="0.8" stroke-linecap="butt"/>
<line x1="514.00" y1="641.72" x2="732.50" y2="641.72" stroke="#f8dcdc" stroke-width="0.8" stroke-linecap="butt"/>
<line x1="514.00" y1="659.54" x2="732.50" y2="659.54" stroke="#f8dcdc" stroke-width="0.8" stroke-linecap="butt"/>
<line x1="514.00" y1="677.36" x2="732.50" y2="677.36" stroke="#f8dcdc" stroke-width="0.8" stroke-linecap="butt"/>
<line x1="514.00" y1="695.18" x2="732.50" y2="695.18" stroke="#f8dcdc" stroke-width="0.8" stroke-linecap="butt"/>
<line x1="514.00" y1="713.01" x2="732.50" y2="713.01" stroke="#f8dcdc" stroke-width="0.8" stroke-linecap="butt"/>
<line x1="514.00" y1="730.83" x2="732.50" y2="730.83" stroke="#f8dcdc" stroke-width="0.8" stroke-linecap="butt"/>
<line x1="514.00" y1="748.65" x2="732.50" y2="748.65" stroke="#f8dcdc" stroke-width="0.8" stroke-linecap="butt"/>
<line x1="514.00" y1="766.48" x2="732.50" y2="766.48" stroke="#f8dcdc" stroke-width="0.8" stroke-linecap="butt"/>
<rect x="514.00" y="552.60" width="218.50" height="231.70" fill="none" stroke="#1a1a1a" stroke-width="1.2"/>
<text x="509.60" y="565.86" font-size="11.90" text-anchor="end" stroke="#242424" stroke-width="0.3" fill="#242424">IL-1β</text>
<text x="509.60" y="583.66" font-size="11.90" text-anchor="end" stroke="#242424" stroke-width="0.3" fill="#242424">IL-6</text>
<text x="509.60" y="601.56" font-size="11.90" text-anchor="end" stroke="#242424" stroke-width="0.3" fill="#242424">TNF</text>
<text x="509.60" y="618.16" font-size="11.90" text-anchor="end" stroke="#242424" stroke-width="0.3" fill="#242424">CXCL10</text>
<text x="509.60" y="638.76" font-size="11.90" text-anchor="end" stroke="#242424" stroke-width="0.3" fill="#242424">CCL2</text>
<text x="509.60" y="656.16" font-size="11.90" text-anchor="end" stroke="#242424" stroke-width="0.3" fill="#242424">IL-11</text>
<text x="509.60" y="674.06" font-size="11.90" text-anchor="end" stroke="#242424" stroke-width="0.3" fill="#242424">VEGFA</text>
<text x="509.60" y="691.06" font-size="11.90" text-anchor="end" stroke="#242424" stroke-width="0.3" fill="#242424">IL-7</text>
<text x="509.60" y="708.46" font-size="11.90" text-anchor="end" stroke="#242424" stroke-width="0.3" fill="#242424">CXCL8</text>
<text x="509.60" y="726.86" font-size="11.90" text-anchor="end" stroke="#242424" stroke-width="0.3" fill="#242424">IL-12A</text>
<text x="509.60" y="745.16" font-size="11.90" text-anchor="end" stroke="#242424" stroke-width="0.3" fill="#242424">IL-18</text>
<text x="509.60" y="762.56" font-size="11.90" text-anchor="end" stroke="#242424" stroke-width="0.3" fill="#242424">IL-15</text>
<text x="509.60" y="780.46" font-size="11.90" text-anchor="end" stroke="#242424" stroke-width="0.3" fill="#242424">IL-10</text>
<defs><linearGradient id="cb4" x1="0" y1="0" x2="0" y2="1"><stop offset="0" stop-color="#050202"/><stop offset="0.07" stop-color="#120405"/><stop offset="0.16" stop-color="#3a0a0c"/><stop offset="0.3" stop-color="#8a1a1e"/><stop offset="0.4" stop-color="#c0191e"/><stop offset="0.49" stop-color="#e3151b"/><stop offset="0.62" stop-color="#e84a48"/><stop offset="0.75" stop-color="#ee8083"/><stop offset="0.88" stop-color="#f7c8c9"/><stop offset="1" stop-color="#ffffff"/></linearGradient></defs>
<rect x="750.00" y="667.50" width="29.80" height="116.80" fill="url(#cb4)" stroke="#111" stroke-width="1.3"/>
<line x1="750.00" y1="672.00" x2="752.80" y2="672.00" stroke="#111" stroke-width="0.9" stroke-linecap="butt"/>
<line x1="777.00" y1="672.00" x2="779.80" y2="672.00" stroke="#111" stroke-width="0.9" stroke-linecap="butt"/>
<text x="781.80" y="676.05" font-size="11.30" text-anchor="start" stroke="#242424" stroke-width="0.3" fill="#242424">4.0</text>
<line x1="750.00" y1="700.80" x2="752.80" y2="700.80" stroke="#111" stroke-width="0.9" stroke-linecap="butt"/>
<line x1="777.00" y1="700.80" x2="779.80" y2="700.80" stroke="#111" stroke-width="0.9" stroke-linecap="butt"/>
<text x="781.80" y="704.85" font-size="11.30" text-anchor="start" stroke="#242424" stroke-width="0.3" fill="#242424">3.0</text>
<line x1="750.00" y1="729.50" x2="752.80" y2="729.50" stroke="#111" stroke-width="0.9" stroke-linecap="butt"/>
<line x1="777.00" y1="729.50" x2="779.80" y2="729.50" stroke="#111" stroke-width="0.9" stroke-linecap="butt"/>
<text x="781.80" y="733.55" font-size="11.30" text-anchor="start" stroke="#242424" stroke-width="0.3" fill="#242424">2.0</text>
<line x1="750.00" y1="757.80" x2="752.80" y2="757.80" stroke="#111" stroke-width="0.9" stroke-linecap="butt"/>
<line x1="777.00" y1="757.80" x2="779.80" y2="757.80" stroke="#111" stroke-width="0.9" stroke-linecap="butt"/>
<text x="781.80" y="761.85" font-size="11.30" text-anchor="start" stroke="#242424" stroke-width="0.3" fill="#242424">1.0</text>
<text x="535.00" y="808.26" font-size="11.90" text-anchor="middle" stroke="#242424" stroke-width="0.3" fill="#242424">Mock</text>
<text x="582.00" y="808.26" font-size="11.90" text-anchor="middle" stroke="#242424" stroke-width="0.3" fill="#242424">AAV-CT</text>
<text x="628.90" y="808.26" font-size="11.90" text-anchor="middle" stroke="#242424" stroke-width="0.3" fill="#242424">AAV-N</text>
<text x="672.30" y="808.26" font-size="11.90" text-anchor="middle" stroke="#242424" stroke-width="0.3" fill="#242424">AAV-N</text>
<text x="713.00" y="808.26" font-size="11.90" text-anchor="middle" stroke="#242424" stroke-width="0.3" fill="#242424">AAV-N</text>
<text x="675.00" y="828.26" font-size="11.90" text-anchor="middle" stroke="#242424" stroke-width="0.3" fill="#242424">AC-</text>
<text x="717.20" y="828.26" font-size="11.91" text-anchor="middle" stroke="#242424" stroke-width="0.3" fill="#242424">MCC950</text>
<text x="669.15" y="842.23" font-size="11.82" text-anchor="middle" stroke="#242424" stroke-width="0.3" fill="#242424">YVAD</text>
</svg>
</body></html>
